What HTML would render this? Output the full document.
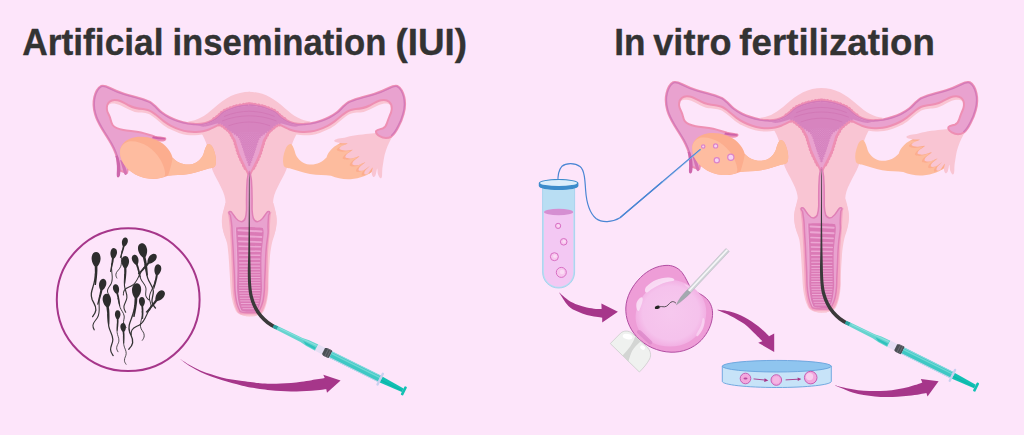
<!DOCTYPE html>
<html lang="en">
<head>
<meta charset="utf-8">
<title>Artificial insemination (IUI) vs In vitro fertilization</title>
<style>
html,body{margin:0;padding:0;background:#fde5fa;}
body{width:1024px;height:435px;overflow:hidden;}
svg{display:block;}
</style>
</head>
<body>
<svg width="1024" height="435" viewBox="0 0 1024 435">
<rect width="1024" height="435" fill="#fde5fa"/>
<text y="54.7" style="font-family:'Liberation Sans','DejaVu Sans',sans-serif;font-weight:bold;font-size:37.7px;fill:#333333;stroke:#333333;stroke-width:0.35px;stroke-linejoin:round"><tspan x="22.2" textLength="141.4" lengthAdjust="spacingAndGlyphs">Artificial</tspan> <tspan x="172.4" textLength="214" lengthAdjust="spacingAndGlyphs">insemination</tspan> <tspan x="395.4" textLength="71.6" lengthAdjust="spacingAndGlyphs">(IUI)</tspan></text><text y="54.7" style="font-family:'Liberation Sans','DejaVu Sans',sans-serif;font-weight:bold;font-size:37.7px;fill:#333333;stroke:#333333;stroke-width:0.35px;stroke-linejoin:round"><tspan x="614.2" textLength="31.2" lengthAdjust="spacingAndGlyphs">In</tspan> <tspan x="653.3" textLength="78.2" lengthAdjust="spacingAndGlyphs">vitro</tspan> <tspan x="739.3" textLength="195.6" lengthAdjust="spacingAndGlyphs">fertilization</tspan></text>
<g id="iui">
<path fill="#f9c5d3" d="M250,91.8 C236,91.8 225,98 214,108 C205,116 197,121 188,121.5 L200,131 C204,137 206,142 207,146 L211,166 C213,172 215,176 218.4,182 C222,189 224.5,194 225.2,199 C226,204 225,207 223.7,210 C222.2,214 221.7,219 221.9,222.7 C222.2,227 222.8,230 223.7,232.6 C225,236.5 226.5,240 227.7,243 C229.5,247 230.5,250 230.8,254 L231.6,268 L232.5,286.5 C233,295 234,300 235.4,305.4 C236.5,309.5 238,312.5 240,314.2 C243,316 246,316.3 250,316.3 Z"/><g transform="translate(498.6,0) scale(-1,1)"><path fill="#f9c5d3" d="M250,91.8 C236,91.8 225,98 214,108 C205,116 197,121 188,121.5 L200,131 C204,137 206,142 207,146 L211,166 C213,172 215,176 218.4,182 C222,189 224.5,194 225.2,199 C226,204 225,207 223.7,210 C222.2,214 221.7,219 221.9,222.7 C222.2,227 222.8,230 223.7,232.6 C225,236.5 226.5,240 227.7,243 C229.5,247 230.5,250 230.8,254 L231.6,268 L232.5,286.5 C233,295 234,300 235.4,305.4 C236.5,309.5 238,312.5 240,314.2 C243,316 246,316.3 250,316.3 Z"/></g><path fill="#fdbc9e" d="M374,150 C366,141 352,139 342,142.5 C334,145.5 328.5,151 326.5,157.5
C322,162.5 316,165 309.5,164.5 C303,164 298,160 295.5,154 C294.5,150.5 293.5,146.5 291.5,144.2 C289,143 287,145.5 285.5,149
C283.5,154 282.2,160 283.5,165 C284.5,168 287,167.8 289.5,168.3 C296,170 302.5,172.8 310,174 C318,175.3 325,175 331,175.8
C337,178.5 344,179.6 350.5,179.2 C360,178.5 369,175 374,170 Z"/><clipPath id="ovrclip"><path d="M374,150 C366,141 352,139 342,142.5 C334,145.5 328.5,151 326.5,157.5 L320,164 L320,174 L331,175.8 C337,178.5 344,179.6 350.5,179.2 C360,178.5 369,175 374,170 Z"/></clipPath><g clip-path="url(#ovrclip)"><path fill="#fcad8e" transform="translate(-2.6,1.2)" d="M393.60,133.20 C392.60,132.13 387.88,132.65 385.00,132.60 C382.12,132.55 379.50,132.68 376.30,132.90 C373.10,133.12 369.73,133.43 365.80,133.90 C361.87,134.37 356.62,135.00 352.70,135.70 C348.78,136.40 345.02,137.52 342.30,138.10 C339.58,138.68 337.75,138.77 336.40,139.20 C335.05,139.63 334.20,140.20 334.20,140.70 C334.20,141.20 335.10,141.78 336.40,142.20 C337.70,142.62 340.13,142.97 342.00,143.20 C343.87,143.43 347.75,143.05 347.60,143.60 C347.45,144.15 342.43,145.61 341.10,146.51 C339.77,147.41 338.94,148.32 339.60,149.00 C340.26,149.68 342.88,150.45 345.05,150.58 C347.22,150.71 352.32,149.19 352.60,149.80 C352.88,150.42 347.92,152.97 346.75,154.27 C345.58,155.57 344.84,156.91 345.60,157.60 C346.36,158.29 349.03,158.64 351.33,158.41 C353.63,158.18 359.01,155.76 359.40,156.20 C359.79,156.64 354.81,159.66 353.68,161.06 C352.55,162.46 351.90,163.93 352.60,164.60 C353.31,165.27 355.81,165.46 357.91,165.06 C360.01,164.66 364.89,161.89 365.20,162.20 C365.50,162.51 360.81,165.56 359.74,166.93 C358.67,168.30 358.17,169.86 358.80,170.40 C359.44,170.94 361.72,170.89 363.55,170.16 C365.38,169.43 369.54,165.91 369.80,166.00 C370.06,166.09 365.99,169.36 365.12,170.73 C364.25,172.10 364.07,173.79 364.60,174.20 C365.13,174.61 366.97,174.29 368.30,173.19 C369.63,172.09 372.04,167.61 372.60,167.60 C373.17,167.59 371.59,171.54 371.69,173.11 C371.79,174.68 372.56,176.62 373.20,177.00 C373.83,177.38 374.83,176.76 375.50,175.36 C376.17,173.96 376.79,168.79 377.20,168.60 C377.61,168.41 377.45,172.64 377.98,174.24 C378.51,175.84 379.74,177.84 380.40,178.20 C381.06,178.56 381.65,177.89 381.96,176.42 C382.28,174.95 382.09,171.64 382.30,169.40 C382.51,167.16 382.82,165.40 383.20,163.00 C383.58,160.60 383.90,157.75 384.60,155.00 C385.30,152.25 386.33,149.17 387.40,146.50 C388.47,143.83 389.97,141.22 391.00,139.00 C392.03,136.78 394.60,134.27 393.60,133.20 Z"/></g><path fill="#f9c5d3" d="M393.60,133.20 C392.60,132.13 387.88,132.65 385.00,132.60 C382.12,132.55 379.50,132.68 376.30,132.90 C373.10,133.12 369.73,133.43 365.80,133.90 C361.87,134.37 356.62,135.00 352.70,135.70 C348.78,136.40 345.02,137.52 342.30,138.10 C339.58,138.68 337.75,138.77 336.40,139.20 C335.05,139.63 334.20,140.20 334.20,140.70 C334.20,141.20 335.10,141.78 336.40,142.20 C337.70,142.62 340.13,142.97 342.00,143.20 C343.87,143.43 347.75,143.05 347.60,143.60 C347.45,144.15 342.43,145.61 341.10,146.51 C339.77,147.41 338.94,148.32 339.60,149.00 C340.26,149.68 342.88,150.45 345.05,150.58 C347.22,150.71 352.32,149.19 352.60,149.80 C352.88,150.42 347.92,152.97 346.75,154.27 C345.58,155.57 344.84,156.91 345.60,157.60 C346.36,158.29 349.03,158.64 351.33,158.41 C353.63,158.18 359.01,155.76 359.40,156.20 C359.79,156.64 354.81,159.66 353.68,161.06 C352.55,162.46 351.90,163.93 352.60,164.60 C353.31,165.27 355.81,165.46 357.91,165.06 C360.01,164.66 364.89,161.89 365.20,162.20 C365.50,162.51 360.81,165.56 359.74,166.93 C358.67,168.30 358.17,169.86 358.80,170.40 C359.44,170.94 361.72,170.89 363.55,170.16 C365.38,169.43 369.54,165.91 369.80,166.00 C370.06,166.09 365.99,169.36 365.12,170.73 C364.25,172.10 364.07,173.79 364.60,174.20 C365.13,174.61 366.97,174.29 368.30,173.19 C369.63,172.09 372.04,167.61 372.60,167.60 C373.17,167.59 371.59,171.54 371.69,173.11 C371.79,174.68 372.56,176.62 373.20,177.00 C373.83,177.38 374.83,176.76 375.50,175.36 C376.17,173.96 376.79,168.79 377.20,168.60 C377.61,168.41 377.45,172.64 377.98,174.24 C378.51,175.84 379.74,177.84 380.40,178.20 C381.06,178.56 381.65,177.89 381.96,176.42 C382.28,174.95 382.09,171.64 382.30,169.40 C382.51,167.16 382.82,165.40 383.20,163.00 C383.58,160.60 383.90,157.75 384.60,155.00 C385.30,152.25 386.33,149.17 387.40,146.50 C388.47,143.83 389.97,141.22 391.00,139.00 C392.03,136.78 394.60,134.27 393.60,133.20 Z"/><path fill="#f9c5d3" d="M108.00,103.00 C108.67,102.57 110.42,100.80 112.00,100.40 C113.58,100.00 115.67,100.23 117.50,100.60 C119.33,100.97 121.08,101.75 123.00,102.60 C124.92,103.45 126.83,104.70 129.00,105.70 C131.17,106.70 133.67,108.02 136.00,108.60 C138.33,109.18 140.67,108.83 143.00,109.20 C145.33,109.57 147.83,109.87 150.00,110.80 C152.17,111.73 153.67,113.03 156.00,114.80 C158.33,116.57 161.50,119.57 164.00,121.40 C166.50,123.23 168.33,124.43 171.00,125.80 C173.67,127.17 177.17,128.63 180.00,129.60 C182.83,130.57 185.33,131.20 188.00,131.60 C190.67,132.00 193.50,132.07 196.00,132.00 C198.50,131.93 200.83,131.62 203.00,131.20 C205.17,130.78 208.00,129.78 209.00,129.50 L210.8,132.8 L207.8,132.8 C206.80,133.08 203.97,134.08 201.80,134.50 C199.63,134.92 197.30,135.23 194.80,135.30 C192.30,135.37 189.47,135.30 186.80,134.90 C184.13,134.50 181.63,133.87 178.80,132.90 C175.97,131.93 172.47,130.47 169.80,129.10 C167.13,127.73 165.30,126.53 162.80,124.70 C160.30,122.87 157.13,119.87 154.80,118.10 C152.47,116.33 150.97,115.03 148.80,114.10 C146.63,113.17 144.13,112.87 141.80,112.50 C139.47,112.13 137.13,112.48 134.80,111.90 C132.47,111.32 129.97,110.00 127.80,109.00 C125.63,108.00 123.72,106.75 121.80,105.90 C119.88,105.05 118.13,104.27 116.30,103.90 C114.47,103.53 112.38,103.30 110.80,103.70 C109.22,104.10 107.47,105.87 106.80,106.30 Z"/><g transform="translate(498.6,0) scale(-1,1)"><path fill="#f9c5d3" d="M108.00,103.00 C108.67,102.57 110.42,100.80 112.00,100.40 C113.58,100.00 115.67,100.23 117.50,100.60 C119.33,100.97 121.08,101.75 123.00,102.60 C124.92,103.45 126.83,104.70 129.00,105.70 C131.17,106.70 133.67,108.02 136.00,108.60 C138.33,109.18 140.67,108.83 143.00,109.20 C145.33,109.57 147.83,109.87 150.00,110.80 C152.17,111.73 153.67,113.03 156.00,114.80 C158.33,116.57 161.50,119.57 164.00,121.40 C166.50,123.23 168.33,124.43 171.00,125.80 C173.67,127.17 177.17,128.63 180.00,129.60 C182.83,130.57 185.33,131.20 188.00,131.60 C190.67,132.00 193.50,132.07 196.00,132.00 C198.50,131.93 200.83,131.62 203.00,131.20 C205.17,130.78 208.00,129.78 209.00,129.50 L210.8,132.8 L207.8,132.8 C206.80,133.08 203.97,134.08 201.80,134.50 C199.63,134.92 197.30,135.23 194.80,135.30 C192.30,135.37 189.47,135.30 186.80,134.90 C184.13,134.50 181.63,133.87 178.80,132.90 C175.97,131.93 172.47,130.47 169.80,129.10 C167.13,127.73 165.30,126.53 162.80,124.70 C160.30,122.87 157.13,119.87 154.80,118.10 C152.47,116.33 150.97,115.03 148.80,114.10 C146.63,113.17 144.13,112.87 141.80,112.50 C139.47,112.13 137.13,112.48 134.80,111.90 C132.47,111.32 129.97,110.00 127.80,109.00 C125.63,108.00 123.72,106.75 121.80,105.90 C119.88,105.05 118.13,104.27 116.30,103.90 C114.47,103.53 112.38,103.30 110.80,103.70 C109.22,104.10 107.47,105.87 106.80,106.30 Z"/></g><path fill="none" stroke="#ee8db2" stroke-width="4.0" stroke-linecap="round" stroke-dasharray="0.01 3.3" d="M219,124.5 C221,124.4 222.8,125.8 224.2,127 C226.2,128.6 228,129.8 229.3,131.2 C230.8,133 231.6,134.8 232.4,136.4 C233.3,138 234,139 234.5,140 C235,141.2 235.3,142.3 235.5,143.3 C236.6,147 237.6,150.3 238.6,153.6 C239.7,156.6 241,159.3 242.3,161.9 C243.5,164.5 244.7,166.8 245.9,169.1"/><path fill="none" stroke="#ee8db2" stroke-width="4.0" stroke-linecap="round" stroke-dasharray="0.01 3.3" d="M250,104.3 C246,104.4 243,104.8 239.7,105.6 C236.5,106.3 234,107 231.4,107.9 C228.5,108.9 226.3,109.9 224.2,111 C222,112.3 220.5,113.8 219,115.4 C217.5,116.8 216,118 214,119.2"/><g transform="translate(498.6,0) scale(-1,1)"><path fill="none" stroke="#ee8db2" stroke-width="4.0" stroke-linecap="round" stroke-dasharray="0.01 3.3" d="M219,124.5 C221,124.4 222.8,125.8 224.2,127 C226.2,128.6 228,129.8 229.3,131.2 C230.8,133 231.6,134.8 232.4,136.4 C233.3,138 234,139 234.5,140 C235,141.2 235.3,142.3 235.5,143.3 C236.6,147 237.6,150.3 238.6,153.6 C239.7,156.6 241,159.3 242.3,161.9 C243.5,164.5 244.7,166.8 245.9,169.1"/><path fill="none" stroke="#ee8db2" stroke-width="4.0" stroke-linecap="round" stroke-dasharray="0.01 3.3" d="M250,104.3 C246,104.4 243,104.8 239.7,105.6 C236.5,106.3 234,107 231.4,107.9 C228.5,108.9 226.3,109.9 224.2,111 C222,112.3 220.5,113.8 219,115.4 C217.5,116.8 216,118 214,119.2"/></g><clipPath id="utl"><path d="
M250,104.3 C246,104.4 243,104.8 239.7,105.6 C236.5,106.3 234,107 231.4,107.9 C228.5,108.9 226.3,109.9 224.2,111 C222,112.3 220.5,113.8 219,115.4
C217.5,116.8 216,118 214,119.2 C210.5,121.3 207.5,122.6 204.5,123.2 C201,124 198,124.2 195,123.9 C193.83,123.78 190.83,123.75 188.00,123.20 C185.17,122.65 181.07,121.60 178.00,120.60 C174.93,119.60 172.37,118.63 169.60,117.20 C166.83,115.77 163.83,113.90 161.40,112.00 C158.97,110.10 156.90,107.48 155.00,105.80 C153.10,104.12 151.83,102.95 150.00,101.90 C148.17,100.85 145.00,99.90 144.00,99.50
C137,97.3 130,95.5 124,93.7 C118,91.9 114,90 110,88 C106.5,86.2 103.5,85 101,86
C97.5,88 95.5,92 94.3,97 C93,102.5 93.3,108 95,114 C96.5,119.5 99,124 102,129
C105,134 108.5,139 111.5,144.5 C114.5,150 116.5,155 117.5,160 L118.4,170 L127,173 L130,160
L132,146 L140,139 L152,139.5 C156,140.3 160,140.8 163,140.4 C165,140 165.8,139 165,138.3
C162,137.6 158.5,137.4 155,136.6 C150,135.3 146,133.6 141,132.5 C135,131.2 129,131 123.5,130
C118.5,129 114.5,127.5 112.6,125 C111,122.8 110.8,120 110,117.5 C109,114.5 107.2,112.5 106.9,109.5
C106.6,106.5 107.5,103.5 109.5,101.8 C111.5,100 114.5,99.6 117.5,100.3 C121.5,101.2 125,103.3 129,105.5
C133.5,108 138,108.8 143,109 C144.17,109.30 147.83,109.83 150.00,110.80 C152.17,111.77 153.67,113.03 156.00,114.80 C158.33,116.57 161.50,119.57 164.00,121.40 C166.50,123.23 168.33,124.43 171.00,125.80 C173.67,127.17 177.17,128.63 180.00,129.60 C182.83,130.57 185.33,131.20 188.00,131.60 C190.67,132.00 193.50,132.07 196.00,132.00 C198.50,131.93 200.83,131.62 203.00,131.20 C205.17,130.78 207.17,130.17 209.00,129.50 C210.83,128.83 212.33,128.02 214.00,127.20 C215.67,126.38 218.17,125.03 219.00,124.60
C221,124.4 222.8,125.8 224.2,127 C226.2,128.6 228,129.8 229.3,131.2 C230.8,133 231.6,134.8 232.4,136.4 C233.3,138 234,139 234.5,140
C235,141.2 235.3,142.3 235.5,143.3 C236.6,147 237.6,150.3 238.6,153.6 C239.7,156.6 241,159.3 242.3,161.9 C243.5,164.5 244.7,166.8 245.9,169.1
C246.8,171 247.6,172.6 248.3,174.3 L250,176 Z"/></clipPath><path d="
M250,104.3 C246,104.4 243,104.8 239.7,105.6 C236.5,106.3 234,107 231.4,107.9 C228.5,108.9 226.3,109.9 224.2,111 C222,112.3 220.5,113.8 219,115.4
C217.5,116.8 216,118 214,119.2 C210.5,121.3 207.5,122.6 204.5,123.2 C201,124 198,124.2 195,123.9 C193.83,123.78 190.83,123.75 188.00,123.20 C185.17,122.65 181.07,121.60 178.00,120.60 C174.93,119.60 172.37,118.63 169.60,117.20 C166.83,115.77 163.83,113.90 161.40,112.00 C158.97,110.10 156.90,107.48 155.00,105.80 C153.10,104.12 151.83,102.95 150.00,101.90 C148.17,100.85 145.00,99.90 144.00,99.50
C137,97.3 130,95.5 124,93.7 C118,91.9 114,90 110,88 C106.5,86.2 103.5,85 101,86
C97.5,88 95.5,92 94.3,97 C93,102.5 93.3,108 95,114 C96.5,119.5 99,124 102,129
C105,134 108.5,139 111.5,144.5 C114.5,150 116.5,155 117.5,160 L118.4,170 L127,173 L130,160
L132,146 L140,139 L152,139.5 C156,140.3 160,140.8 163,140.4 C165,140 165.8,139 165,138.3
C162,137.6 158.5,137.4 155,136.6 C150,135.3 146,133.6 141,132.5 C135,131.2 129,131 123.5,130
C118.5,129 114.5,127.5 112.6,125 C111,122.8 110.8,120 110,117.5 C109,114.5 107.2,112.5 106.9,109.5
C106.6,106.5 107.5,103.5 109.5,101.8 C111.5,100 114.5,99.6 117.5,100.3 C121.5,101.2 125,103.3 129,105.5
C133.5,108 138,108.8 143,109 C144.17,109.30 147.83,109.83 150.00,110.80 C152.17,111.77 153.67,113.03 156.00,114.80 C158.33,116.57 161.50,119.57 164.00,121.40 C166.50,123.23 168.33,124.43 171.00,125.80 C173.67,127.17 177.17,128.63 180.00,129.60 C182.83,130.57 185.33,131.20 188.00,131.60 C190.67,132.00 193.50,132.07 196.00,132.00 C198.50,131.93 200.83,131.62 203.00,131.20 C205.17,130.78 207.17,130.17 209.00,129.50 C210.83,128.83 212.33,128.02 214.00,127.20 C215.67,126.38 218.17,125.03 219.00,124.60
C221,124.4 222.8,125.8 224.2,127 C226.2,128.6 228,129.8 229.3,131.2 C230.8,133 231.6,134.8 232.4,136.4 C233.3,138 234,139 234.5,140
C235,141.2 235.3,142.3 235.5,143.3 C236.6,147 237.6,150.3 238.6,153.6 C239.7,156.6 241,159.3 242.3,161.9 C243.5,164.5 244.7,166.8 245.9,169.1
C246.8,171 247.6,172.6 248.3,174.3 L250,176 Z" fill="#e9a2cf"/><path d="M250,104.3 C246,104.4 243,104.8 239.7,105.6 C236.5,106.3 234,107 231.4,107.9 C228.5,108.9 226.3,109.9 224.2,111 C222,112.3 220.5,113.8 219,115.4
C217.5,116.8 216,118 214,119.2 C210.5,121.3 207.5,122.6 204.5,123.2 C201,124 198,124.2 195,123.9 C193.83,123.78 190.83,123.75 188.00,123.20 C185.17,122.65 181.07,121.60 178.00,120.60 C174.93,119.60 172.37,118.63 169.60,117.20 C166.83,115.77 163.83,113.90 161.40,112.00 C158.97,110.10 156.90,107.48 155.00,105.80 C153.10,104.12 151.83,102.95 150.00,101.90 C148.17,100.85 145.00,99.90 144.00,99.50
C137,97.3 130,95.5 124,93.7 C118,91.9 114,90 110,88 C106.5,86.2 103.5,85 101,86
C97.5,88 95.5,92 94.3,97 C93,102.5 93.3,108 95,114 C96.5,119.5 99,124 102,129
C105,134 108.5,139 111.5,144.5 C114.5,150 116.5,155 117.5,160 L118.4,170 L127,173 L130,160
L132,146 L140,139 L152,139.5 C156,140.3 160,140.8 163,140.4 C165,140 165.8,139 165,138.3
C162,137.6 158.5,137.4 155,136.6 C150,135.3 146,133.6 141,132.5 C135,131.2 129,131 123.5,130
C118.5,129 114.5,127.5 112.6,125 C111,122.8 110.8,120 110,117.5 C109,114.5 107.2,112.5 106.9,109.5
C106.6,106.5 107.5,103.5 109.5,101.8 C111.5,100 114.5,99.6 117.5,100.3 C121.5,101.2 125,103.3 129,105.5
C133.5,108 138,108.8 143,109 C144.17,109.30 147.83,109.83 150.00,110.80 C152.17,111.77 153.67,113.03 156.00,114.80 C158.33,116.57 161.50,119.57 164.00,121.40 C166.50,123.23 168.33,124.43 171.00,125.80 C173.67,127.17 177.17,128.63 180.00,129.60 C182.83,130.57 185.33,131.20 188.00,131.60 C190.67,132.00 193.50,132.07 196.00,132.00 C198.50,131.93 200.83,131.62 203.00,131.20 C205.17,130.78 207.17,130.17 209.00,129.50 C210.83,128.83 212.33,128.02 214.00,127.20 C215.67,126.38 218.17,125.03 219.00,124.60
C221,124.4 222.8,125.8 224.2,127 C226.2,128.6 228,129.8 229.3,131.2 C230.8,133 231.6,134.8 232.4,136.4 C233.3,138 234,139 234.5,140
C235,141.2 235.3,142.3 235.5,143.3 C236.6,147 237.6,150.3 238.6,153.6 C239.7,156.6 241,159.3 242.3,161.9 C243.5,164.5 244.7,166.8 245.9,169.1
C246.8,171 247.6,172.6 248.3,174.3 " fill="none" stroke="#ee8fb3" stroke-width="2.0" stroke-linejoin="round"/><path d="
M250,104.3 C246,104.4 243,104.8 239.7,105.6 C236.5,106.3 234,107 231.4,107.9 C228.5,108.9 226.3,109.9 224.2,111 C222,112.3 220.5,113.8 219,115.4
C217.5,116.8 216,118 214,119.2 C210.5,121.3 207.5,122.6 204.5,123.2 C201,124 198,124.2 195,123.9 C193.83,123.78 190.83,123.75 188.00,123.20 C185.17,122.65 181.07,121.60 178.00,120.60 C174.93,119.60 172.37,118.63 169.60,117.20 C166.83,115.77 163.83,113.90 161.40,112.00 C158.97,110.10 156.90,107.48 155.00,105.80 C153.10,104.12 151.83,102.95 150.00,101.90 C148.17,100.85 145.00,99.90 144.00,99.50
C137,97.3 130,95.5 124,93.7 C118,91.9 114,90 110,88 C106.5,86.2 103.5,85 101,86
C97.5,88 95.5,92 94.3,97 C93,102.5 93.3,108 95,114 C96.5,119.5 99,124 102,129
C105,134 108.5,139 111.5,144.5 C114.5,150 116.5,155 117.5,160" fill="none" stroke="#d47ab9" stroke-width="2.8" stroke-linejoin="round" clip-path="url(#utl)"/><g transform="translate(498.6,0) scale(-1,1)"><clipPath id="utr"><path d="
M250,104.3 C246,104.4 243,104.8 239.7,105.6 C236.5,106.3 234,107 231.4,107.9 C228.5,108.9 226.3,109.9 224.2,111 C222,112.3 220.5,113.8 219,115.4
C217.5,116.8 216,118 214,119.2 C210.5,121.3 207.5,122.6 204.5,123.2 C201,124 198,124.2 195,123.9 C193.83,123.78 190.83,123.75 188.00,123.20 C185.17,122.65 181.07,121.60 178.00,120.60 C174.93,119.60 172.37,118.63 169.60,117.20 C166.83,115.77 163.83,113.90 161.40,112.00 C158.97,110.10 156.90,107.48 155.00,105.80 C153.10,104.12 151.83,102.95 150.00,101.90 C148.17,100.85 145.00,99.90 144.00,99.50
C137,97.3 130,95.5 124,93.7 C118,91.9 114,90 110,88 C106.5,86.2 103.5,85 101,86
C97.5,88 95.5,92 94.3,97 C93,102.5 93.3,108 95,114 C96.5,119.5 98,123 100,126.5
C102,130.5 104,134 107,136.3 C110.5,138.5 115.5,138.2 119,136.2 C121.5,134.8 123.3,132.5 122.3,130.8 C121.3,129.5 118.5,129.3 116,128.5
C113.5,127.6 112.3,125.5 111.6,123 C110.8,120.5 110,118.5 109,116 C107.8,113.5 107,111.5 106.9,109.5
C106.6,106.5 107.5,103.5 109.5,101.8 C111.5,100 114.5,99.6 117.5,100.3 C121.5,101.2 125,103.3 129,105.5
C133.5,108 138,108.8 143,109 C144.17,109.30 147.83,109.83 150.00,110.80 C152.17,111.77 153.67,113.03 156.00,114.80 C158.33,116.57 161.50,119.57 164.00,121.40 C166.50,123.23 168.33,124.43 171.00,125.80 C173.67,127.17 177.17,128.63 180.00,129.60 C182.83,130.57 185.33,131.20 188.00,131.60 C190.67,132.00 193.50,132.07 196.00,132.00 C198.50,131.93 200.83,131.62 203.00,131.20 C205.17,130.78 207.17,130.17 209.00,129.50 C210.83,128.83 212.33,128.02 214.00,127.20 C215.67,126.38 218.17,125.03 219.00,124.60
C221,124.4 222.8,125.8 224.2,127 C226.2,128.6 228,129.8 229.3,131.2 C230.8,133 231.6,134.8 232.4,136.4 C233.3,138 234,139 234.5,140
C235,141.2 235.3,142.3 235.5,143.3 C236.6,147 237.6,150.3 238.6,153.6 C239.7,156.6 241,159.3 242.3,161.9 C243.5,164.5 244.7,166.8 245.9,169.1
C246.8,171 247.6,172.6 248.3,174.3 L250,176 Z"/></clipPath><path d="
M250,104.3 C246,104.4 243,104.8 239.7,105.6 C236.5,106.3 234,107 231.4,107.9 C228.5,108.9 226.3,109.9 224.2,111 C222,112.3 220.5,113.8 219,115.4
C217.5,116.8 216,118 214,119.2 C210.5,121.3 207.5,122.6 204.5,123.2 C201,124 198,124.2 195,123.9 C193.83,123.78 190.83,123.75 188.00,123.20 C185.17,122.65 181.07,121.60 178.00,120.60 C174.93,119.60 172.37,118.63 169.60,117.20 C166.83,115.77 163.83,113.90 161.40,112.00 C158.97,110.10 156.90,107.48 155.00,105.80 C153.10,104.12 151.83,102.95 150.00,101.90 C148.17,100.85 145.00,99.90 144.00,99.50
C137,97.3 130,95.5 124,93.7 C118,91.9 114,90 110,88 C106.5,86.2 103.5,85 101,86
C97.5,88 95.5,92 94.3,97 C93,102.5 93.3,108 95,114 C96.5,119.5 98,123 100,126.5
C102,130.5 104,134 107,136.3 C110.5,138.5 115.5,138.2 119,136.2 C121.5,134.8 123.3,132.5 122.3,130.8 C121.3,129.5 118.5,129.3 116,128.5
C113.5,127.6 112.3,125.5 111.6,123 C110.8,120.5 110,118.5 109,116 C107.8,113.5 107,111.5 106.9,109.5
C106.6,106.5 107.5,103.5 109.5,101.8 C111.5,100 114.5,99.6 117.5,100.3 C121.5,101.2 125,103.3 129,105.5
C133.5,108 138,108.8 143,109 C144.17,109.30 147.83,109.83 150.00,110.80 C152.17,111.77 153.67,113.03 156.00,114.80 C158.33,116.57 161.50,119.57 164.00,121.40 C166.50,123.23 168.33,124.43 171.00,125.80 C173.67,127.17 177.17,128.63 180.00,129.60 C182.83,130.57 185.33,131.20 188.00,131.60 C190.67,132.00 193.50,132.07 196.00,132.00 C198.50,131.93 200.83,131.62 203.00,131.20 C205.17,130.78 207.17,130.17 209.00,129.50 C210.83,128.83 212.33,128.02 214.00,127.20 C215.67,126.38 218.17,125.03 219.00,124.60
C221,124.4 222.8,125.8 224.2,127 C226.2,128.6 228,129.8 229.3,131.2 C230.8,133 231.6,134.8 232.4,136.4 C233.3,138 234,139 234.5,140
C235,141.2 235.3,142.3 235.5,143.3 C236.6,147 237.6,150.3 238.6,153.6 C239.7,156.6 241,159.3 242.3,161.9 C243.5,164.5 244.7,166.8 245.9,169.1
C246.8,171 247.6,172.6 248.3,174.3 L250,176 Z" fill="#e9a2cf"/><path d="M250,104.3 C246,104.4 243,104.8 239.7,105.6 C236.5,106.3 234,107 231.4,107.9 C228.5,108.9 226.3,109.9 224.2,111 C222,112.3 220.5,113.8 219,115.4
C217.5,116.8 216,118 214,119.2 C210.5,121.3 207.5,122.6 204.5,123.2 C201,124 198,124.2 195,123.9 C193.83,123.78 190.83,123.75 188.00,123.20 C185.17,122.65 181.07,121.60 178.00,120.60 C174.93,119.60 172.37,118.63 169.60,117.20 C166.83,115.77 163.83,113.90 161.40,112.00 C158.97,110.10 156.90,107.48 155.00,105.80 C153.10,104.12 151.83,102.95 150.00,101.90 C148.17,100.85 145.00,99.90 144.00,99.50
C137,97.3 130,95.5 124,93.7 C118,91.9 114,90 110,88 C106.5,86.2 103.5,85 101,86
C97.5,88 95.5,92 94.3,97 C93,102.5 93.3,108 95,114 C96.5,119.5 98,123 100,126.5
C102,130.5 104,134 107,136.3 C110.5,138.5 115.5,138.2 119,136.2 C121.5,134.8 123.3,132.5 122.3,130.8 C121.3,129.5 118.5,129.3 116,128.5
C113.5,127.6 112.3,125.5 111.6,123 C110.8,120.5 110,118.5 109,116 C107.8,113.5 107,111.5 106.9,109.5
C106.6,106.5 107.5,103.5 109.5,101.8 C111.5,100 114.5,99.6 117.5,100.3 C121.5,101.2 125,103.3 129,105.5
C133.5,108 138,108.8 143,109 C144.17,109.30 147.83,109.83 150.00,110.80 C152.17,111.77 153.67,113.03 156.00,114.80 C158.33,116.57 161.50,119.57 164.00,121.40 C166.50,123.23 168.33,124.43 171.00,125.80 C173.67,127.17 177.17,128.63 180.00,129.60 C182.83,130.57 185.33,131.20 188.00,131.60 C190.67,132.00 193.50,132.07 196.00,132.00 C198.50,131.93 200.83,131.62 203.00,131.20 C205.17,130.78 207.17,130.17 209.00,129.50 C210.83,128.83 212.33,128.02 214.00,127.20 C215.67,126.38 218.17,125.03 219.00,124.60
C221,124.4 222.8,125.8 224.2,127 C226.2,128.6 228,129.8 229.3,131.2 C230.8,133 231.6,134.8 232.4,136.4 C233.3,138 234,139 234.5,140
C235,141.2 235.3,142.3 235.5,143.3 C236.6,147 237.6,150.3 238.6,153.6 C239.7,156.6 241,159.3 242.3,161.9 C243.5,164.5 244.7,166.8 245.9,169.1
C246.8,171 247.6,172.6 248.3,174.3 " fill="none" stroke="#ee8fb3" stroke-width="2.0" stroke-linejoin="round"/><path d="
M250,104.3 C246,104.4 243,104.8 239.7,105.6 C236.5,106.3 234,107 231.4,107.9 C228.5,108.9 226.3,109.9 224.2,111 C222,112.3 220.5,113.8 219,115.4
C217.5,116.8 216,118 214,119.2 C210.5,121.3 207.5,122.6 204.5,123.2 C201,124 198,124.2 195,123.9 C193.83,123.78 190.83,123.75 188.00,123.20 C185.17,122.65 181.07,121.60 178.00,120.60 C174.93,119.60 172.37,118.63 169.60,117.20 C166.83,115.77 163.83,113.90 161.40,112.00 C158.97,110.10 156.90,107.48 155.00,105.80 C153.10,104.12 151.83,102.95 150.00,101.90 C148.17,100.85 145.00,99.90 144.00,99.50
C137,97.3 130,95.5 124,93.7 C118,91.9 114,90 110,88 C106.5,86.2 103.5,85 101,86
C97.5,88 95.5,92 94.3,97 C93,102.5 93.3,108 95,114 C96.5,119.5 98,123 100,126.5
C102,130.5 104,134 107,136.3" fill="none" stroke="#d47ab9" stroke-width="2.8" stroke-linejoin="round" clip-path="url(#utr)"/></g><path fill="#cd66ac" d="M115.4,156 C116.6,160 117.1,165 116.9,170 C116.8,173 116.5,175.6 117.1,176.9 C117.9,177.9 119.5,177.3 119.9,175.6 C120.7,172 120.5,167 119.9,163 C119.5,160.4 118.7,157.8 117.7,155.4 Z"/>
<path fill="#d573b3" d="M120,160 C121.2,163.4 122.3,167.2 123.1,170.4 C123.7,172.6 124.2,174.3 125.2,174.9 C126.5,175.3 127.3,174 126.9,172.2 C126.1,168.6 124.7,164.6 122.9,161 Z"/>
<path fill="#cf62a8" d="M152,138.2 C156,139 160,139.6 163.5,139.6 C165.5,139.5 166,138.6 164.6,138 C161,137.2 157,137 153,136.2 Z"/><path fill="#fcad8e" d="M120,151 C120.5,144.5 126,139 135,137.3 C146,135.5 158,139 165.5,146 C169,149.3 171.5,153.5 172.5,157.5
C177,162.5 183,165 189.5,164.5 C196,164 201,160 203.5,154 C204.5,150.5 205.5,146.5 207.5,144.2 C210,143 212,145.5 213.5,149
C215.5,154 216.8,160 215.5,165 C214.5,168 212,167.8 209.5,168.3 C203,170 196.5,172.8 189,174 C181,175.3 174,175 168,175.8
C162,178.5 155,179.4 148.5,178.6 C139,177.5 130,172.5 124.5,165 C121.5,161 119.8,156 120,151 Z"/>
<path fill="#fdbc9e" d="M172.6,158 C177,162.5 183,165 189.5,164.5 C196,164 201,160 203.5,154 C204.5,150.5 205.5,146.5 207.5,144.2 C210,143 212,145.5 213.5,149
C215.5,154 216.8,160 215.5,165 C214.5,168 212,167.8 209.5,168.3 C203,170 196.5,172.8 189,174 C181,175.3 174,175 168,175.8 C170,170 171.6,164 172.6,158 Z"/>
<path fill="#febca0" d="M120,151 C120.4,146.6 123.6,143 128.6,141.4 C135,140.6 142,142.6 148,146.6 C153,150 157.4,154.6 160.6,160 C162.8,163.8 164.4,168 165,172 C165.2,174 165,175.6 164.4,176.8 C159.4,178.6 153.6,179.2 148.5,178.6 C139,177.5 130,172.5 124.5,165 C121.5,161 119.8,156 120,151 Z"/><path fill="#d784bf" d="M249.3,105.7 C246,105.8 243,106.3 239.7,107 C236.6,107.7 234,108.4 231.4,109.3 C228.6,110.3 226.3,111.3 224.2,112.4 C222,113.7 220.6,115.2 219,116.8 C217.5,118.2 216.2,119.4 214.3,120.6 C211,122.5 208,123.8 205,124.4 C202.5,124.8 200,124.9 197,124.6 C199.5,126.2 202,127 205.3,126.6 C209,126 212.5,124.6 215.7,123.7 C217,123.3 218,123.1 219,123.2 C219.50,123.33 220.93,123.43 222.00,124.00 C223.07,124.57 224.30,125.70 225.40,126.60 C226.50,127.50 227.50,128.50 228.60,129.40 C229.70,130.30 230.87,131.20 232.00,132.00 C233.13,132.80 234.37,133.47 235.40,134.20 C236.43,134.93 237.43,135.60 238.20,136.40 C238.97,137.20 239.43,137.90 240.00,139.00 C240.57,140.10 241.07,141.57 241.60,143.00 C242.13,144.43 242.70,146.10 243.20,147.60 C243.70,149.10 244.13,150.52 244.60,152.00 C245.07,153.48 245.50,155.00 246.00,156.50 C246.50,158.00 247.05,159.58 247.60,161.00 C248.15,162.42 249.02,164.33 249.30,165.00 L250,165 L250,105.7 Z"/><path fill="none" stroke="#d784bf" stroke-width="2.0" stroke-linecap="round" stroke-dasharray="0.01 2.7" d="M219.00,123.20 C219.50,123.33 220.93,123.43 222.00,124.00 C223.07,124.57 224.30,125.70 225.40,126.60 C226.50,127.50 227.50,128.50 228.60,129.40 C229.70,130.30 230.87,131.20 232.00,132.00 C233.13,132.80 234.37,133.47 235.40,134.20 C236.43,134.93 237.43,135.60 238.20,136.40 C238.97,137.20 239.43,137.90 240.00,139.00 C240.57,140.10 241.07,141.57 241.60,143.00 C242.13,144.43 242.70,146.10 243.20,147.60 C243.70,149.10 244.13,150.52 244.60,152.00 C245.07,153.48 245.50,155.00 246.00,156.50 C246.50,158.00 247.05,159.58 247.60,161.00 C248.15,162.42 249.02,164.33 249.30,165.00"/><path fill="none" stroke="#d176b4" stroke-width="1.0" opacity="0.8" d="M224,116.5 C232,113 241,111.3 250,111.2 M222,121 C231,117.3 241,115.8 250,115.8 M228.5,125.8 C236,123 243,122 250,122"/><g transform="translate(498.6,0) scale(-1,1)"><path fill="#d784bf" d="M249.3,105.7 C246,105.8 243,106.3 239.7,107 C236.6,107.7 234,108.4 231.4,109.3 C228.6,110.3 226.3,111.3 224.2,112.4 C222,113.7 220.6,115.2 219,116.8 C217.5,118.2 216.2,119.4 214.3,120.6 C211,122.5 208,123.8 205,124.4 C202.5,124.8 200,124.9 197,124.6 C199.5,126.2 202,127 205.3,126.6 C209,126 212.5,124.6 215.7,123.7 C217,123.3 218,123.1 219,123.2 C219.50,123.33 220.93,123.43 222.00,124.00 C223.07,124.57 224.30,125.70 225.40,126.60 C226.50,127.50 227.50,128.50 228.60,129.40 C229.70,130.30 230.87,131.20 232.00,132.00 C233.13,132.80 234.37,133.47 235.40,134.20 C236.43,134.93 237.43,135.60 238.20,136.40 C238.97,137.20 239.43,137.90 240.00,139.00 C240.57,140.10 241.07,141.57 241.60,143.00 C242.13,144.43 242.70,146.10 243.20,147.60 C243.70,149.10 244.13,150.52 244.60,152.00 C245.07,153.48 245.50,155.00 246.00,156.50 C246.50,158.00 247.05,159.58 247.60,161.00 C248.15,162.42 249.02,164.33 249.30,165.00 L250,165 L250,105.7 Z"/><path fill="none" stroke="#d784bf" stroke-width="2.0" stroke-linecap="round" stroke-dasharray="0.01 2.7" d="M219.00,123.20 C219.50,123.33 220.93,123.43 222.00,124.00 C223.07,124.57 224.30,125.70 225.40,126.60 C226.50,127.50 227.50,128.50 228.60,129.40 C229.70,130.30 230.87,131.20 232.00,132.00 C233.13,132.80 234.37,133.47 235.40,134.20 C236.43,134.93 237.43,135.60 238.20,136.40 C238.97,137.20 239.43,137.90 240.00,139.00 C240.57,140.10 241.07,141.57 241.60,143.00 C242.13,144.43 242.70,146.10 243.20,147.60 C243.70,149.10 244.13,150.52 244.60,152.00 C245.07,153.48 245.50,155.00 246.00,156.50 C246.50,158.00 247.05,159.58 247.60,161.00 C248.15,162.42 249.02,164.33 249.30,165.00"/><path fill="none" stroke="#d176b4" stroke-width="1.0" opacity="0.8" d="M224,116.5 C232,113 241,111.3 250,111.2 M222,121 C231,117.3 241,115.8 250,115.8 M228.5,125.8 C236,123 243,122 250,122"/></g><pattern id="cavdots" width="2.2" height="2.2" patternUnits="userSpaceOnUse" patternTransform="translate(0.2,0.4)"><rect width="2.2" height="2.2" fill="#d47ebc"/><circle cx="0.55" cy="0.55" r="0.62" fill="#dc90c8"/><circle cx="1.65" cy="1.65" r="0.62" fill="#dc90c8"/></pattern><path fill="url(#cavdots)" d="M237.4,133 C245,131.6 253.6,131.6 261.2,133 C259.6,136 258.2,139.6 257.2,143 C256,147.4 254.8,152 253.2,156 C252.2,158.6 251,161 249.3,163.4 C247.6,161 246.4,158.6 245.4,156 C243.8,152 242.6,147.4 241.4,143 C240.4,139.6 239,136 237.4,133 Z"/><path fill="#f9c5d3" d="M225.40,203.00 C225.12,204.17 224.27,207.08 223.70,210.00 C223.13,212.92 222.02,216.73 222.00,220.50 C221.98,224.27 222.77,228.85 223.60,232.60 C224.43,236.35 226.20,239.43 227.00,243.00 C227.80,246.57 228.07,250.83 228.40,254.00 C228.73,257.17 228.77,258.50 229.00,262.00 C229.23,265.50 229.52,270.33 229.80,275.00 C230.08,279.67 230.33,286.00 230.70,290.00 C231.07,294.00 231.42,296.17 232.00,299.00 C232.58,301.83 233.17,304.57 234.20,307.00 C235.23,309.43 236.17,312.07 238.20,313.60 C240.23,315.13 245.03,315.77 246.40,316.20 L254.6,316.2 C255.83,315.73 260.20,314.93 262.00,313.40 C263.80,311.87 264.50,309.40 265.40,307.00 C266.30,304.60 266.90,301.83 267.40,299.00 C267.90,296.17 268.17,294.00 268.40,290.00 C268.63,286.00 268.60,279.67 268.80,275.00 C269.00,270.33 269.37,265.50 269.60,262.00 C269.83,258.50 269.80,257.17 270.20,254.00 C270.60,250.83 271.20,246.57 272.00,243.00 C272.80,239.43 274.23,236.35 275.00,232.60 C275.77,228.85 276.57,224.27 276.60,220.50 C276.63,216.73 275.73,212.92 275.20,210.00 C274.67,207.08 273.70,204.17 273.40,203.00 Z"/><path fill="#f4a5c3" d="M227.40,211.40 C227.57,212.17 228.03,213.62 228.40,216.00 C228.77,218.38 229.30,222.37 229.60,225.70 C229.90,229.03 229.97,231.95 230.20,236.00 C230.43,240.05 230.80,246.00 231.00,250.00 C231.20,254.00 231.23,255.83 231.40,260.00 C231.57,264.17 231.80,270.00 232.00,275.00 C232.20,280.00 232.30,285.83 232.60,290.00 C232.90,294.17 233.33,297.17 233.80,300.00 C234.27,302.83 234.70,304.93 235.40,307.00 C236.10,309.07 236.90,311.13 238.00,312.40 C239.10,313.67 241.33,314.23 242.00,314.60 L257.6,314.6 C258.27,314.23 260.47,313.67 261.60,312.40 C262.73,311.13 263.60,309.07 264.40,307.00 C265.20,304.93 265.82,302.83 266.40,300.00 C266.98,297.17 267.65,293.00 267.90,290.00 C268.15,287.00 267.90,285.33 267.90,282.00 C267.90,278.67 267.88,274.50 267.90,270.00 C267.92,265.50 267.88,259.17 268.00,255.00 C268.12,250.83 268.32,248.67 268.60,245.00 C268.88,241.33 269.47,236.22 269.70,233.00 C269.93,229.78 269.85,228.53 270.00,225.70 C270.15,222.87 270.33,218.38 270.60,216.00 C270.87,213.62 271.43,212.17 271.60,211.40 C270.6,212.8 269.6,214 268.8,215.4 C266,219.6 261.6,223.6 257.6,223.2 L241,223.2 C237,223.6 232.6,219.6 229.8,215.4 C229,214 228.4,212.8 227.4,211.4 Z"/><path fill="#e9a2cf" stroke="#e080b6" stroke-width="1.5" stroke-linejoin="round" d="M240.20,311.60 C239.80,310.67 238.47,307.93 237.80,306.00 C237.13,304.07 236.68,302.67 236.20,300.00 C235.72,297.33 235.20,294.17 234.90,290.00 C234.60,285.83 234.62,280.00 234.40,275.00 C234.18,270.00 233.80,264.17 233.60,260.00 C233.40,255.83 233.42,254.00 233.20,250.00 C232.98,246.00 232.53,240.05 232.30,236.00 C232.07,231.95 232.12,229.15 231.80,225.70 C231.48,222.25 230.63,217.03 230.40,215.30 C229.8,214.2 228.6,213.4 228.8,212.4 C229.2,211.2 230.8,211.4 231.8,212.6 C233.2,214.4 234.4,216.4 236,218.4 C237.6,220.4 239.4,221.7 241.2,221.7 C243,221.7 244.4,220.4 245.2,218.4 C246,216.2 246.3,213.5 246.5,210.2 C246.6,207 246.5,204 246.5,200 C246.5,192 246.8,185 247.2,180 C247.6,176 248.3,173.5 249.3,171.5 C250.3,173.5 251,176 251.4,180 C251.8,185 252.1,192 252.1,200 C252.1,204 252,207 252.1,210.2 C252.3,213.5 252.6,216.2 253.4,218.4 C254.2,220.4 255.6,221.7 257.4,221.7 C259.2,221.7 261,220.4 262.6,218.4 C264.2,216.4 265.4,214.4 266.8,212.6 C267.8,211.4 269.4,211.2 269.8,212.4 C270,213.4 268.8,214.2 268.6,215.3 C268.50,217.03 268.08,222.75 268.00,225.70 C267.92,228.65 268.33,229.78 268.10,233.00 C267.87,236.22 266.98,241.33 266.60,245.00 C266.22,248.67 266.03,250.83 265.80,255.00 C265.57,259.17 265.40,265.50 265.20,270.00 C265.00,274.50 264.73,278.67 264.60,282.00 C264.47,285.33 264.63,287.00 264.40,290.00 C264.17,293.00 263.70,297.33 263.20,300.00 C262.70,302.67 262.13,304.07 261.40,306.00 C260.67,307.93 259.23,310.67 258.80,311.60 C259,313.2 244,313.2 240.2,311.6 Z"/><path fill="#db7ab6" d="M236.10,227.40 C236.12,228.33 236.08,230.07 236.20,233.00 C236.32,235.93 236.63,241.17 236.80,245.00 C236.97,248.83 237.10,251.83 237.20,256.00 C237.30,260.17 237.40,265.67 237.40,270.00 C237.40,274.33 237.23,278.67 237.20,282.00 C237.17,285.33 237.03,287.00 237.20,290.00 C237.37,293.00 237.80,297.33 238.20,300.00 C238.60,302.67 239.07,304.27 239.60,306.00 C240.13,307.73 241.10,309.67 241.40,310.40 C244,312.2 258,312.4 257.6,310.4 C257.90,309.67 258.87,307.73 259.40,306.00 C259.93,304.27 260.38,302.67 260.80,300.00 C261.22,297.33 261.73,293.00 261.90,290.00 C262.07,287.00 261.87,285.33 261.80,282.00 C261.73,278.67 261.55,274.33 261.50,270.00 C261.45,265.67 261.35,260.17 261.50,256.00 C261.65,251.83 262.05,248.83 262.40,245.00 C262.75,241.17 263.52,235.83 263.60,233.00 C263.68,230.17 263.02,228.83 262.90,228.00 C258,227.2 244,226.6 236.1,227.4 Z"/><path fill="none" stroke="#f2bfe2" stroke-width="0.5" opacity="0.7" d="M235.50,227.40 C235.52,228.33 235.48,230.07 235.60,233.00 C235.72,235.93 236.03,241.17 236.20,245.00 C236.37,248.83 236.50,251.83 236.60,256.00 C236.70,260.17 236.80,265.67 236.80,270.00 C236.80,274.33 236.63,278.67 236.60,282.00 C236.57,285.33 236.43,287.00 236.60,290.00 C236.77,293.00 237.20,297.33 237.60,300.00 C238.00,302.67 238.47,304.27 239.00,306.00 C239.53,307.73 240.50,309.67 240.80,310.40"/><path d="M238.4,230.3 L261.5,231.5" stroke="#eca6d3" stroke-width="2.00" stroke-linecap="round" fill="none"/><path d="M238.6,236.0 L261.4,237.0" stroke="#eca6d3" stroke-width="1.87" stroke-linecap="round" fill="none"/><path d="M238.8,241.3 L260.9,242.1" stroke="#eca6d3" stroke-width="1.74" stroke-linecap="round" fill="none"/><path d="M239.1,246.3 L260.5,246.8" stroke="#eca6d3" stroke-width="1.62" stroke-linecap="round" fill="none"/><path d="M239.2,250.9 L260.1,251.2" stroke="#eca6d3" stroke-width="1.51" stroke-linecap="round" fill="none"/><path d="M239.4,255.1 L259.8,255.3" stroke="#eca6d3" stroke-width="1.40" stroke-linecap="round" fill="none"/><path d="M239.4,259.1 L259.7,259.2" stroke="#eca6d3" stroke-width="1.30" stroke-linecap="round" fill="none"/><path d="M239.5,262.8 L259.7,262.8" stroke="#eca6d3" stroke-width="1.21" stroke-linecap="round" fill="none"/><path d="M239.5,266.1 L259.7,266.1" stroke="#eca6d3" stroke-width="1.13" stroke-linecap="round" fill="none"/><path d="M239.6,269.3 L259.7,269.3" stroke="#eca6d3" stroke-width="1.05" stroke-linecap="round" fill="none"/><path d="M239.6,272.2 L259.8,272.2" stroke="#eca6d3" stroke-width="1.00" stroke-linecap="round" fill="none"/><path d="M239.5,274.9 L259.8,274.9" stroke="#eca6d3" stroke-width="1.00" stroke-linecap="round" fill="none"/><path d="M239.5,277.5 L259.9,277.5" stroke="#eca6d3" stroke-width="1.00" stroke-linecap="round" fill="none"/><path d="M239.4,280.1 L260.0,280.1" stroke="#eca6d3" stroke-width="1.00" stroke-linecap="round" fill="none"/><path d="M239.4,282.7 L260.0,282.7" stroke="#eca6d3" stroke-width="1.00" stroke-linecap="round" fill="none"/><path d="M239.4,285.3 L260.0,285.3" stroke="#eca6d3" stroke-width="1.00" stroke-linecap="round" fill="none"/><path d="M239.4,287.9 L260.1,287.9" stroke="#eca6d3" stroke-width="1.00" stroke-linecap="round" fill="none"/><path d="M239.4,290.5 L260.0,290.5" stroke="#eca6d3" stroke-width="1.00" stroke-linecap="round" fill="none"/><path d="M239.7,293.1 L259.8,293.1" stroke="#eca6d3" stroke-width="1.00" stroke-linecap="round" fill="none"/><path d="M240.0,295.7 L259.5,295.7" stroke="#eca6d3" stroke-width="1.00" stroke-linecap="round" fill="none"/><path d="M240.2,298.3 L259.2,298.3" stroke="#eca6d3" stroke-width="1.00" stroke-linecap="round" fill="none"/><path d="M240.6,300.9 L258.8,300.9" stroke="#eca6d3" stroke-width="1.00" stroke-linecap="round" fill="none"/><path d="M241.2,303.5 L258.2,303.5" stroke="#eca6d3" stroke-width="1.00" stroke-linecap="round" fill="none"/><path d="M241.8,306.1 L257.6,306.1" stroke="#eca6d3" stroke-width="1.00" stroke-linecap="round" fill="none"/><path d="M242.9,308.7 L256.5,308.7" stroke="#eca6d3" stroke-width="1.00" stroke-linecap="round" fill="none"/><path fill="#3a3a3a" d="M249.25,172 L249.6,180 L249.7,205 L249.85,226 L250.15,250 L250.6,270 C250.8,283 251.5,291 253.1,297 C255,304 257.8,309.4 262.2,314.8 C266.2,319.6 270.8,323 276.5,326 L275.1,329.1 C268.8,326 263.8,322.2 259.6,317.2 C255,311.6 251.9,305.2 250,298.2 C248.4,292 247.8,283 247.8,270 L248.3,250 L248.65,226 L248.8,205 L248.9,180 Z"/>
<g transform="translate(274.6,326.7) rotate(26.4)"><path fill="#66d3cf" d="M-1,-1.5 L3,-1.9 L30,-2.3 L37,-3.2 L47,-3.5 L47,3.5 L37,3.2 L30,2.3 L3,1.9 L-1,1.5 Z"/><path fill="#2ba19f" d="M-1.4,-1.5 L3,-1.9 L3,1.9 L-1.4,1.5 Z"/><path fill="#8fe3df" opacity="0.85" d="M5,-1.2 L30,-1.6 L36,-2.3 L46,-2.5 L46,-1.2 L36,-1 L5,-0.2 Z"/><path fill="#2fc2bd" d="M32,0 L46,0.2 L46,2.6 L36,2.4 Z"/><rect x="47" y="-3.6" width="8" height="7.2" fill="#e6def4"/><path fill="#4b4f55" d="M54.6,-3.4 L56.4,-4.3 L62,-4.3 L62.6,-3.4 L62.6,3.4 L62,4.3 L56.4,4.3 L54.6,3.4 Z"/><path fill="#686c73" d="M57.6,-4.3 L58.6,-4.3 L58.6,4.3 L57.6,4.3 Z M60,-4.3 L61,-4.3 L61,4.3 L60,4.3 Z"/><rect x="62.6" y="-3.5" width="55.4" height="7" fill="#3fc8c4"/><rect x="62.6" y="-1.9" width="55.4" height="1.3" fill="#6fd8d4"/><rect x="62.6" y="-3.6" width="55.4" height="1.0" fill="#9adbe6" opacity="0.8"/><rect x="62.6" y="2.8" width="55.4" height="0.9" fill="#c9d3ee"/><rect x="116.7" y="-7.2" width="2.4" height="14.4" rx="1.2" fill="#c9d0ef"/><path fill="#12c0b3" d="M119.1,-3.3 L143,-2 L143,2 L119.1,3.3 Z"/><path fill="#0aa99d" opacity="0.6" d="M119.1,0.2 L143,0.2 L143,0.9 L119.1,1.1 Z"/><rect x="143" y="-4.8" width="2.6" height="9.6" rx="0.9" fill="#12c0b3"/></g>
<circle cx="128.2" cy="299.7" r="71.4" fill="none" stroke="#a6368a" stroke-width="2"/><g transform="translate(96.1,259.6) rotate(0) scale(1.176)"><path d="M0,-6.4 C2.6,-6.4 3.9,-3.6 3.8,-0.6 C3.6,2.4 2.2,4.6 1.1,5.8 L1.15,9 C1,13 0.6,17 -0.1,21.5 L-1.3,21.5 C-1,17 -1,13 -1.1,9 L-1.15,5.8 C-2.2,4.6 -3.6,2.4 -3.8,-0.6 C-3.9,-3.6 -2.6,-6.4 0,-6.4 Z" fill="#2d2d2d"/><path d="M-0.6,12 C-0.6,16 -1.4,19 -2.6,23 C-4,27.5 -4.8,30 -3.4,34 C-2.2,37 0.2,39 -0.2,43 C-0.5,45.5 -1.8,47 -3,48.5" stroke="#333" stroke-width="1.1" fill="none" stroke-linecap="round"/></g><g transform="translate(113.6,253.6) rotate(8) scale(0.861)"><path d="M0,-6.4 C2.6,-6.4 3.9,-3.6 3.8,-0.6 C3.6,2.4 2.2,4.6 1.1,5.8 L1.15,9 C1,13 0.6,17 -0.1,21.5 L-1.3,21.5 C-1,17 -1,13 -1.1,9 L-1.15,5.8 C-2.2,4.6 -3.6,2.4 -3.8,-0.6 C-3.9,-3.6 -2.6,-6.4 0,-6.4 Z" fill="#2d2d2d"/><path d="M-0.6,12 C-0.6,16 0.4,19.5 1.4,23.5 C2.6,28 3.4,31 2,35 C0.8,38.5 -1.4,40.5 -1,44 C-0.7,46 0.4,47.5 1.4,48.5" stroke="#333" stroke-width="1.1" fill="none" stroke-linecap="round"/></g><g transform="translate(124.7,242.2) rotate(14) scale(0.756)"><path d="M0,-6.4 C2.6,-6.4 3.9,-3.6 3.8,-0.6 C3.6,2.4 2.2,4.6 1.1,5.8 L1.15,9 C1,13 0.6,17 -0.1,21.5 L-1.3,21.5 C-1,17 -1,13 -1.1,9 L-1.15,5.8 C-2.2,4.6 -3.6,2.4 -3.8,-0.6 C-3.9,-3.6 -2.6,-6.4 0,-6.4 Z" fill="#2d2d2d"/><path d="M-0.6,12 C-0.6,16 0.4,19.5 1.4,23.5 C2.6,28 3.4,31 2,35 C0.8,38.5 -1.4,40.5 -1,44 C-0.7,46 0.4,47.5 1.4,48.5" stroke="#333" stroke-width="1.1" fill="none" stroke-linecap="round"/></g><g transform="translate(125.3,262.4) rotate(0) scale(0.997)"><path d="M0,-6.4 C2.6,-6.4 3.9,-3.6 3.8,-0.6 C3.6,2.4 2.2,4.6 1.1,5.8 L1.15,9 C1,13 0.6,17 -0.1,21.5 L-1.3,21.5 C-1,17 -1,13 -1.1,9 L-1.15,5.8 C-2.2,4.6 -3.6,2.4 -3.8,-0.6 C-3.9,-3.6 -2.6,-6.4 0,-6.4 Z" fill="#2d2d2d"/><path d="M-0.6,12 C-0.8,16 -1.2,19.5 -0.8,23.5 C-0.4,28 2,31 1.6,35.5 C1.2,39 -1.2,41 -1.4,44.5 C-1.6,47 -0.4,48.5 0.4,50" stroke="#333" stroke-width="1.1" fill="none" stroke-linecap="round"/></g><g transform="translate(135.4,260.0) rotate(-18) scale(0.840)"><path d="M0,-6.4 C2.6,-6.4 3.9,-3.6 3.8,-0.6 C3.6,2.4 2.2,4.6 1.1,5.8 L1.15,9 C1,13 0.6,17 -0.1,21.5 L-1.3,21.5 C-1,17 -1,13 -1.1,9 L-1.15,5.8 C-2.2,4.6 -3.6,2.4 -3.8,-0.6 C-3.9,-3.6 -2.6,-6.4 0,-6.4 Z" fill="#2d2d2d"/><path d="M-0.6,12 C-0.8,16 -1.2,19.5 -0.8,23.5 C-0.4,28 2,31 1.6,35.5 C1.2,39 -1.2,41 -1.4,44.5 C-1.6,47 -0.4,48.5 0.4,50" stroke="#333" stroke-width="1.1" fill="none" stroke-linecap="round"/></g><g transform="translate(142.8,250.6) rotate(-12) scale(1.176)"><path d="M0,-6.4 C2.6,-6.4 3.9,-3.6 3.8,-0.6 C3.6,2.4 2.2,4.6 1.1,5.8 L1.15,9 C1,13 0.6,17 -0.1,21.5 L-1.3,21.5 C-1,17 -1,13 -1.1,9 L-1.15,5.8 C-2.2,4.6 -3.6,2.4 -3.8,-0.6 C-3.9,-3.6 -2.6,-6.4 0,-6.4 Z" fill="#2d2d2d"/><path d="M-0.6,12 C-0.8,16 -1.2,19.5 -0.8,23.5 C-0.4,28 2,31 1.6,35.5 C1.2,39 -1.2,41 -1.4,44.5 C-1.6,47 -0.4,48.5 0.4,50" stroke="#333" stroke-width="1.1" fill="none" stroke-linecap="round"/></g><g transform="translate(151.8,259.0) rotate(40) scale(0.945)"><path d="M0,-6.4 C2.6,-6.4 3.9,-3.6 3.8,-0.6 C3.6,2.4 2.2,4.6 1.1,5.8 L1.15,9 C1,13 0.6,17 -0.1,21.5 L-1.3,21.5 C-1,17 -1,13 -1.1,9 L-1.15,5.8 C-2.2,4.6 -3.6,2.4 -3.8,-0.6 C-3.9,-3.6 -2.6,-6.4 0,-6.4 Z" fill="#2d2d2d"/><path d="M-0.6,12 C-0.6,16 0.4,19.5 1.4,23.5 C2.6,28 3.4,31 2,35 C0.8,38.5 -1.4,40.5 -1,44 C-0.7,46 0.4,47.5 1.4,48.5" stroke="#333" stroke-width="1.1" fill="none" stroke-linecap="round"/></g><g transform="translate(157.7,270.0) rotate(10) scale(0.892)"><path d="M0,-6.4 C2.6,-6.4 3.9,-3.6 3.8,-0.6 C3.6,2.4 2.2,4.6 1.1,5.8 L1.15,9 C1,13 0.6,17 -0.1,21.5 L-1.3,21.5 C-1,17 -1,13 -1.1,9 L-1.15,5.8 C-2.2,4.6 -3.6,2.4 -3.8,-0.6 C-3.9,-3.6 -2.6,-6.4 0,-6.4 Z" fill="#2d2d2d"/><path d="M-0.6,12 C-0.6,16 -1.4,19 -2.6,23 C-4,27.5 -4.8,30 -3.4,34 C-2.2,37 0.2,39 -0.2,43 C-0.5,45.5 -1.8,47 -3,48.5" stroke="#333" stroke-width="1.1" fill="none" stroke-linecap="round"/></g><g transform="translate(102.5,284.8) rotate(12) scale(0.945)"><path d="M0,-6.4 C2.6,-6.4 3.9,-3.6 3.8,-0.6 C3.6,2.4 2.2,4.6 1.1,5.8 L1.15,9 C1,13 0.6,17 -0.1,21.5 L-1.3,21.5 C-1,17 -1,13 -1.1,9 L-1.15,5.8 C-2.2,4.6 -3.6,2.4 -3.8,-0.6 C-3.9,-3.6 -2.6,-6.4 0,-6.4 Z" fill="#2d2d2d"/><path d="M-0.6,12 C-0.6,16 0.4,19.5 1.4,23.5 C2.6,28 3.4,31 2,35 C0.8,38.5 -1.4,40.5 -1,44 C-0.7,46 0.4,47.5 1.4,48.5" stroke="#333" stroke-width="1.1" fill="none" stroke-linecap="round"/></g><g transform="translate(116.2,289.2) rotate(-14) scale(0.788)"><path d="M0,-6.4 C2.6,-6.4 3.9,-3.6 3.8,-0.6 C3.6,2.4 2.2,4.6 1.1,5.8 L1.15,9 C1,13 0.6,17 -0.1,21.5 L-1.3,21.5 C-1,17 -1,13 -1.1,9 L-1.15,5.8 C-2.2,4.6 -3.6,2.4 -3.8,-0.6 C-3.9,-3.6 -2.6,-6.4 0,-6.4 Z" fill="#2d2d2d"/><path d="M-0.6,12 C-0.8,16 -1.2,19.5 -0.8,23.5 C-0.4,28 2,31 1.6,35.5 C1.2,39 -1.2,41 -1.4,44.5 C-1.6,47 -0.4,48.5 0.4,50" stroke="#333" stroke-width="1.1" fill="none" stroke-linecap="round"/></g><g transform="translate(107,300.8) rotate(-6) scale(1.103)"><path d="M0,-6.4 C2.6,-6.4 3.9,-3.6 3.8,-0.6 C3.6,2.4 2.2,4.6 1.1,5.8 L1.15,9 C1,13 0.6,17 -0.1,21.5 L-1.3,21.5 C-1,17 -1,13 -1.1,9 L-1.15,5.8 C-2.2,4.6 -3.6,2.4 -3.8,-0.6 C-3.9,-3.6 -2.6,-6.4 0,-6.4 Z" fill="#2d2d2d"/><path d="M-0.6,12 C-0.8,16 -1.2,19.5 -0.8,23.5 C-0.4,28 2,31 1.6,35.5 C1.2,39 -1.2,41 -1.4,44.5 C-1.6,47 -0.4,48.5 0.4,50" stroke="#333" stroke-width="1.1" fill="none" stroke-linecap="round"/></g><g transform="translate(136.5,291.0) rotate(4) scale(1.208)"><path d="M0,-6.4 C2.6,-6.4 3.9,-3.6 3.8,-0.6 C3.6,2.4 2.2,4.6 1.1,5.8 L1.15,9 C1,13 0.6,17 -0.1,21.5 L-1.3,21.5 C-1,17 -1,13 -1.1,9 L-1.15,5.8 C-2.2,4.6 -3.6,2.4 -3.8,-0.6 C-3.9,-3.6 -2.6,-6.4 0,-6.4 Z" fill="#2d2d2d"/><path d="M-0.6,12 C-0.6,16 -1.4,19 -2.6,23 C-4,27.5 -4.8,30 -3.4,34 C-2.2,37 0.2,39 -0.2,43 C-0.5,45.5 -1.8,47 -3,48.5" stroke="#333" stroke-width="1.1" fill="none" stroke-linecap="round"/></g><g transform="translate(159.8,296.0) rotate(38) scale(0.997)"><path d="M0,-6.4 C2.6,-6.4 3.9,-3.6 3.8,-0.6 C3.6,2.4 2.2,4.6 1.1,5.8 L1.15,9 C1,13 0.6,17 -0.1,21.5 L-1.3,21.5 C-1,17 -1,13 -1.1,9 L-1.15,5.8 C-2.2,4.6 -3.6,2.4 -3.8,-0.6 C-3.9,-3.6 -2.6,-6.4 0,-6.4 Z" fill="#2d2d2d"/><path d="M-0.6,12 C-0.6,16 0.4,19.5 1.4,23.5 C2.6,28 3.4,31 2,35 C0.8,38.5 -1.4,40.5 -1,44 C-0.7,46 0.4,47.5 1.4,48.5" stroke="#333" stroke-width="1.1" fill="none" stroke-linecap="round"/></g><g transform="translate(142,302) rotate(-4) scale(0.788)"><path d="M0,-6.4 C2.6,-6.4 3.9,-3.6 3.8,-0.6 C3.6,2.4 2.2,4.6 1.1,5.8 L1.15,9 C1,13 0.6,17 -0.1,21.5 L-1.3,21.5 C-1,17 -1,13 -1.1,9 L-1.15,5.8 C-2.2,4.6 -3.6,2.4 -3.8,-0.6 C-3.9,-3.6 -2.6,-6.4 0,-6.4 Z" fill="#2d2d2d"/><path d="M-0.6,12 C-0.6,16 -1.4,19 -2.6,23 C-4,27.5 -4.8,30 -3.4,34 C-2.2,37 0.2,39 -0.2,43 C-0.5,45.5 -1.8,47 -3,48.5" stroke="#333" stroke-width="1.1" fill="none" stroke-linecap="round"/></g><g transform="translate(117.7,315) rotate(0) scale(0.735)"><path d="M0,-6.4 C2.6,-6.4 3.9,-3.6 3.8,-0.6 C3.6,2.4 2.2,4.6 1.1,5.8 L1.15,9 C1,13 0.6,17 -0.1,21.5 L-1.3,21.5 C-1,17 -1,13 -1.1,9 L-1.15,5.8 C-2.2,4.6 -3.6,2.4 -3.8,-0.6 C-3.9,-3.6 -2.6,-6.4 0,-6.4 Z" fill="#2d2d2d"/><path d="M-0.6,12 C-0.8,16 -1.2,19.5 -0.8,23.5 C-0.4,28 2,31 1.6,35.5 C1.2,39 -1.2,41 -1.4,44.5 C-1.6,47 -0.4,48.5 0.4,50" stroke="#333" stroke-width="1.1" fill="none" stroke-linecap="round"/></g><g transform="translate(123.2,327.6) rotate(-4) scale(0.735)"><path d="M0,-6.4 C2.6,-6.4 3.9,-3.6 3.8,-0.6 C3.6,2.4 2.2,4.6 1.1,5.8 L1.15,9 C1,13 0.6,17 -0.1,21.5 L-1.3,21.5 C-1,17 -1,13 -1.1,9 L-1.15,5.8 C-2.2,4.6 -3.6,2.4 -3.8,-0.6 C-3.9,-3.6 -2.6,-6.4 0,-6.4 Z" fill="#2d2d2d"/><path d="M-0.6,12 C-0.8,16 -1.2,19.5 -0.8,23.5 C-0.4,28 2,31 1.6,35.5 C1.2,39 -1.2,41 -1.4,44.5 C-1.6,47 -0.4,48.5 0.4,50" stroke="#333" stroke-width="1.1" fill="none" stroke-linecap="round"/></g>
<path fill="#a6368a" d="M180.60,359.20 C182.25,360.25 187.12,363.58 190.50,365.50 C193.88,367.42 197.45,369.23 200.90,370.70 C204.35,372.17 207.75,373.18 211.20,374.30 C214.65,375.42 218.15,376.53 221.60,377.40 C225.05,378.27 228.47,378.90 231.90,379.50 C235.33,380.10 238.75,380.53 242.20,381.00 C245.65,381.47 249.63,381.93 252.60,382.30 C255.57,382.67 257.05,382.95 260.00,383.20 C262.95,383.45 266.85,383.73 270.30,383.80 C273.75,383.87 277.25,383.73 280.70,383.60 C284.15,383.47 287.55,383.32 291.00,383.00 C294.45,382.68 297.95,382.17 301.40,381.70 C304.85,381.23 307.82,380.80 311.70,380.20 C315.58,379.60 322.53,378.45 324.70,378.10 L323.3,374.8 L340.6,380.5 L327,392.8 L326.2,389 C325.52,389.13 324.52,389.50 322.10,389.80 C319.68,390.10 315.15,390.55 311.70,390.80 C308.25,391.05 304.85,391.17 301.40,391.30 C297.95,391.43 294.45,391.65 291.00,391.60 C287.55,391.55 284.15,391.23 280.70,391.00 C277.25,390.77 273.75,390.53 270.30,390.20 C266.85,389.87 262.95,389.40 260.00,389.00 C257.05,388.60 255.57,388.35 252.60,387.80 C249.63,387.25 245.65,386.48 242.20,385.70 C238.75,384.92 235.33,384.05 231.90,383.10 C228.47,382.15 225.05,381.12 221.60,380.00 C218.15,378.88 214.65,377.70 211.20,376.40 C207.75,375.10 204.35,373.83 200.90,372.20 C197.45,370.57 193.88,368.73 190.50,366.60 C187.12,364.47 182.25,360.60 180.60,359.40 Z"/>
</g>
<g id="ivf">
<g transform="translate(572.2,-3.8)"><path fill="#f9c5d3" d="M250,91.8 C236,91.8 225,98 214,108 C205,116 197,121 188,121.5 L200,131 C204,137 206,142 207,146 L211,166 C213,172 215,176 218.4,182 C222,189 224.5,194 225.2,199 C226,204 225,207 223.7,210 C222.2,214 221.7,219 221.9,222.7 C222.2,227 222.8,230 223.7,232.6 C225,236.5 226.5,240 227.7,243 C229.5,247 230.5,250 230.8,254 L231.6,268 L232.5,286.5 C233,295 234,300 235.4,305.4 C236.5,309.5 238,312.5 240,314.2 C243,316 246,316.3 250,316.3 Z"/><g transform="translate(498.6,0) scale(-1,1)"><path fill="#f9c5d3" d="M250,91.8 C236,91.8 225,98 214,108 C205,116 197,121 188,121.5 L200,131 C204,137 206,142 207,146 L211,166 C213,172 215,176 218.4,182 C222,189 224.5,194 225.2,199 C226,204 225,207 223.7,210 C222.2,214 221.7,219 221.9,222.7 C222.2,227 222.8,230 223.7,232.6 C225,236.5 226.5,240 227.7,243 C229.5,247 230.5,250 230.8,254 L231.6,268 L232.5,286.5 C233,295 234,300 235.4,305.4 C236.5,309.5 238,312.5 240,314.2 C243,316 246,316.3 250,316.3 Z"/></g><path fill="#fdbc9e" d="M374,150 C366,141 352,139 342,142.5 C334,145.5 328.5,151 326.5,157.5
C322,162.5 316,165 309.5,164.5 C303,164 298,160 295.5,154 C294.5,150.5 293.5,146.5 291.5,144.2 C289,143 287,145.5 285.5,149
C283.5,154 282.2,160 283.5,165 C284.5,168 287,167.8 289.5,168.3 C296,170 302.5,172.8 310,174 C318,175.3 325,175 331,175.8
C337,178.5 344,179.6 350.5,179.2 C360,178.5 369,175 374,170 Z"/><clipPath id="ovrclip"><path d="M374,150 C366,141 352,139 342,142.5 C334,145.5 328.5,151 326.5,157.5 L320,164 L320,174 L331,175.8 C337,178.5 344,179.6 350.5,179.2 C360,178.5 369,175 374,170 Z"/></clipPath><g clip-path="url(#ovrclip)"><path fill="#fcad8e" transform="translate(-2.6,1.2)" d="M393.60,133.20 C392.60,132.13 387.88,132.65 385.00,132.60 C382.12,132.55 379.50,132.68 376.30,132.90 C373.10,133.12 369.73,133.43 365.80,133.90 C361.87,134.37 356.62,135.00 352.70,135.70 C348.78,136.40 345.02,137.52 342.30,138.10 C339.58,138.68 337.75,138.77 336.40,139.20 C335.05,139.63 334.20,140.20 334.20,140.70 C334.20,141.20 335.10,141.78 336.40,142.20 C337.70,142.62 340.13,142.97 342.00,143.20 C343.87,143.43 347.75,143.05 347.60,143.60 C347.45,144.15 342.43,145.61 341.10,146.51 C339.77,147.41 338.94,148.32 339.60,149.00 C340.26,149.68 342.88,150.45 345.05,150.58 C347.22,150.71 352.32,149.19 352.60,149.80 C352.88,150.42 347.92,152.97 346.75,154.27 C345.58,155.57 344.84,156.91 345.60,157.60 C346.36,158.29 349.03,158.64 351.33,158.41 C353.63,158.18 359.01,155.76 359.40,156.20 C359.79,156.64 354.81,159.66 353.68,161.06 C352.55,162.46 351.90,163.93 352.60,164.60 C353.31,165.27 355.81,165.46 357.91,165.06 C360.01,164.66 364.89,161.89 365.20,162.20 C365.50,162.51 360.81,165.56 359.74,166.93 C358.67,168.30 358.17,169.86 358.80,170.40 C359.44,170.94 361.72,170.89 363.55,170.16 C365.38,169.43 369.54,165.91 369.80,166.00 C370.06,166.09 365.99,169.36 365.12,170.73 C364.25,172.10 364.07,173.79 364.60,174.20 C365.13,174.61 366.97,174.29 368.30,173.19 C369.63,172.09 372.04,167.61 372.60,167.60 C373.17,167.59 371.59,171.54 371.69,173.11 C371.79,174.68 372.56,176.62 373.20,177.00 C373.83,177.38 374.83,176.76 375.50,175.36 C376.17,173.96 376.79,168.79 377.20,168.60 C377.61,168.41 377.45,172.64 377.98,174.24 C378.51,175.84 379.74,177.84 380.40,178.20 C381.06,178.56 381.65,177.89 381.96,176.42 C382.28,174.95 382.09,171.64 382.30,169.40 C382.51,167.16 382.82,165.40 383.20,163.00 C383.58,160.60 383.90,157.75 384.60,155.00 C385.30,152.25 386.33,149.17 387.40,146.50 C388.47,143.83 389.97,141.22 391.00,139.00 C392.03,136.78 394.60,134.27 393.60,133.20 Z"/></g><path fill="#f9c5d3" d="M393.60,133.20 C392.60,132.13 387.88,132.65 385.00,132.60 C382.12,132.55 379.50,132.68 376.30,132.90 C373.10,133.12 369.73,133.43 365.80,133.90 C361.87,134.37 356.62,135.00 352.70,135.70 C348.78,136.40 345.02,137.52 342.30,138.10 C339.58,138.68 337.75,138.77 336.40,139.20 C335.05,139.63 334.20,140.20 334.20,140.70 C334.20,141.20 335.10,141.78 336.40,142.20 C337.70,142.62 340.13,142.97 342.00,143.20 C343.87,143.43 347.75,143.05 347.60,143.60 C347.45,144.15 342.43,145.61 341.10,146.51 C339.77,147.41 338.94,148.32 339.60,149.00 C340.26,149.68 342.88,150.45 345.05,150.58 C347.22,150.71 352.32,149.19 352.60,149.80 C352.88,150.42 347.92,152.97 346.75,154.27 C345.58,155.57 344.84,156.91 345.60,157.60 C346.36,158.29 349.03,158.64 351.33,158.41 C353.63,158.18 359.01,155.76 359.40,156.20 C359.79,156.64 354.81,159.66 353.68,161.06 C352.55,162.46 351.90,163.93 352.60,164.60 C353.31,165.27 355.81,165.46 357.91,165.06 C360.01,164.66 364.89,161.89 365.20,162.20 C365.50,162.51 360.81,165.56 359.74,166.93 C358.67,168.30 358.17,169.86 358.80,170.40 C359.44,170.94 361.72,170.89 363.55,170.16 C365.38,169.43 369.54,165.91 369.80,166.00 C370.06,166.09 365.99,169.36 365.12,170.73 C364.25,172.10 364.07,173.79 364.60,174.20 C365.13,174.61 366.97,174.29 368.30,173.19 C369.63,172.09 372.04,167.61 372.60,167.60 C373.17,167.59 371.59,171.54 371.69,173.11 C371.79,174.68 372.56,176.62 373.20,177.00 C373.83,177.38 374.83,176.76 375.50,175.36 C376.17,173.96 376.79,168.79 377.20,168.60 C377.61,168.41 377.45,172.64 377.98,174.24 C378.51,175.84 379.74,177.84 380.40,178.20 C381.06,178.56 381.65,177.89 381.96,176.42 C382.28,174.95 382.09,171.64 382.30,169.40 C382.51,167.16 382.82,165.40 383.20,163.00 C383.58,160.60 383.90,157.75 384.60,155.00 C385.30,152.25 386.33,149.17 387.40,146.50 C388.47,143.83 389.97,141.22 391.00,139.00 C392.03,136.78 394.60,134.27 393.60,133.20 Z"/><path fill="#f9c5d3" d="M108.00,103.00 C108.67,102.57 110.42,100.80 112.00,100.40 C113.58,100.00 115.67,100.23 117.50,100.60 C119.33,100.97 121.08,101.75 123.00,102.60 C124.92,103.45 126.83,104.70 129.00,105.70 C131.17,106.70 133.67,108.02 136.00,108.60 C138.33,109.18 140.67,108.83 143.00,109.20 C145.33,109.57 147.83,109.87 150.00,110.80 C152.17,111.73 153.67,113.03 156.00,114.80 C158.33,116.57 161.50,119.57 164.00,121.40 C166.50,123.23 168.33,124.43 171.00,125.80 C173.67,127.17 177.17,128.63 180.00,129.60 C182.83,130.57 185.33,131.20 188.00,131.60 C190.67,132.00 193.50,132.07 196.00,132.00 C198.50,131.93 200.83,131.62 203.00,131.20 C205.17,130.78 208.00,129.78 209.00,129.50 L210.8,132.8 L207.8,132.8 C206.80,133.08 203.97,134.08 201.80,134.50 C199.63,134.92 197.30,135.23 194.80,135.30 C192.30,135.37 189.47,135.30 186.80,134.90 C184.13,134.50 181.63,133.87 178.80,132.90 C175.97,131.93 172.47,130.47 169.80,129.10 C167.13,127.73 165.30,126.53 162.80,124.70 C160.30,122.87 157.13,119.87 154.80,118.10 C152.47,116.33 150.97,115.03 148.80,114.10 C146.63,113.17 144.13,112.87 141.80,112.50 C139.47,112.13 137.13,112.48 134.80,111.90 C132.47,111.32 129.97,110.00 127.80,109.00 C125.63,108.00 123.72,106.75 121.80,105.90 C119.88,105.05 118.13,104.27 116.30,103.90 C114.47,103.53 112.38,103.30 110.80,103.70 C109.22,104.10 107.47,105.87 106.80,106.30 Z"/><g transform="translate(498.6,0) scale(-1,1)"><path fill="#f9c5d3" d="M108.00,103.00 C108.67,102.57 110.42,100.80 112.00,100.40 C113.58,100.00 115.67,100.23 117.50,100.60 C119.33,100.97 121.08,101.75 123.00,102.60 C124.92,103.45 126.83,104.70 129.00,105.70 C131.17,106.70 133.67,108.02 136.00,108.60 C138.33,109.18 140.67,108.83 143.00,109.20 C145.33,109.57 147.83,109.87 150.00,110.80 C152.17,111.73 153.67,113.03 156.00,114.80 C158.33,116.57 161.50,119.57 164.00,121.40 C166.50,123.23 168.33,124.43 171.00,125.80 C173.67,127.17 177.17,128.63 180.00,129.60 C182.83,130.57 185.33,131.20 188.00,131.60 C190.67,132.00 193.50,132.07 196.00,132.00 C198.50,131.93 200.83,131.62 203.00,131.20 C205.17,130.78 208.00,129.78 209.00,129.50 L210.8,132.8 L207.8,132.8 C206.80,133.08 203.97,134.08 201.80,134.50 C199.63,134.92 197.30,135.23 194.80,135.30 C192.30,135.37 189.47,135.30 186.80,134.90 C184.13,134.50 181.63,133.87 178.80,132.90 C175.97,131.93 172.47,130.47 169.80,129.10 C167.13,127.73 165.30,126.53 162.80,124.70 C160.30,122.87 157.13,119.87 154.80,118.10 C152.47,116.33 150.97,115.03 148.80,114.10 C146.63,113.17 144.13,112.87 141.80,112.50 C139.47,112.13 137.13,112.48 134.80,111.90 C132.47,111.32 129.97,110.00 127.80,109.00 C125.63,108.00 123.72,106.75 121.80,105.90 C119.88,105.05 118.13,104.27 116.30,103.90 C114.47,103.53 112.38,103.30 110.80,103.70 C109.22,104.10 107.47,105.87 106.80,106.30 Z"/></g><path fill="none" stroke="#ee8db2" stroke-width="4.0" stroke-linecap="round" stroke-dasharray="0.01 3.3" d="M219,124.5 C221,124.4 222.8,125.8 224.2,127 C226.2,128.6 228,129.8 229.3,131.2 C230.8,133 231.6,134.8 232.4,136.4 C233.3,138 234,139 234.5,140 C235,141.2 235.3,142.3 235.5,143.3 C236.6,147 237.6,150.3 238.6,153.6 C239.7,156.6 241,159.3 242.3,161.9 C243.5,164.5 244.7,166.8 245.9,169.1"/><path fill="none" stroke="#ee8db2" stroke-width="4.0" stroke-linecap="round" stroke-dasharray="0.01 3.3" d="M250,104.3 C246,104.4 243,104.8 239.7,105.6 C236.5,106.3 234,107 231.4,107.9 C228.5,108.9 226.3,109.9 224.2,111 C222,112.3 220.5,113.8 219,115.4 C217.5,116.8 216,118 214,119.2"/><g transform="translate(498.6,0) scale(-1,1)"><path fill="none" stroke="#ee8db2" stroke-width="4.0" stroke-linecap="round" stroke-dasharray="0.01 3.3" d="M219,124.5 C221,124.4 222.8,125.8 224.2,127 C226.2,128.6 228,129.8 229.3,131.2 C230.8,133 231.6,134.8 232.4,136.4 C233.3,138 234,139 234.5,140 C235,141.2 235.3,142.3 235.5,143.3 C236.6,147 237.6,150.3 238.6,153.6 C239.7,156.6 241,159.3 242.3,161.9 C243.5,164.5 244.7,166.8 245.9,169.1"/><path fill="none" stroke="#ee8db2" stroke-width="4.0" stroke-linecap="round" stroke-dasharray="0.01 3.3" d="M250,104.3 C246,104.4 243,104.8 239.7,105.6 C236.5,106.3 234,107 231.4,107.9 C228.5,108.9 226.3,109.9 224.2,111 C222,112.3 220.5,113.8 219,115.4 C217.5,116.8 216,118 214,119.2"/></g><clipPath id="vtl"><path d="
M250,104.3 C246,104.4 243,104.8 239.7,105.6 C236.5,106.3 234,107 231.4,107.9 C228.5,108.9 226.3,109.9 224.2,111 C222,112.3 220.5,113.8 219,115.4
C217.5,116.8 216,118 214,119.2 C210.5,121.3 207.5,122.6 204.5,123.2 C201,124 198,124.2 195,123.9 C193.83,123.78 190.83,123.75 188.00,123.20 C185.17,122.65 181.07,121.60 178.00,120.60 C174.93,119.60 172.37,118.63 169.60,117.20 C166.83,115.77 163.83,113.90 161.40,112.00 C158.97,110.10 156.90,107.48 155.00,105.80 C153.10,104.12 151.83,102.95 150.00,101.90 C148.17,100.85 145.00,99.90 144.00,99.50
C137,97.3 130,95.5 124,93.7 C118,91.9 114,90 110,88 C106.5,86.2 103.5,85 101,86
C97.5,88 95.5,92 94.3,97 C93,102.5 93.3,108 95,114 C96.5,119.5 99,124 102,129
C105,134 108.5,139 111.5,144.5 C114.5,150 116.5,155 117.5,160 L118.4,170 L127,173 L130,160
L132,146 L140,139 L152,139.5 C156,140.3 160,140.8 163,140.4 C165,140 165.8,139 165,138.3
C162,137.6 158.5,137.4 155,136.6 C150,135.3 146,133.6 141,132.5 C135,131.2 129,131 123.5,130
C118.5,129 114.5,127.5 112.6,125 C111,122.8 110.8,120 110,117.5 C109,114.5 107.2,112.5 106.9,109.5
C106.6,106.5 107.5,103.5 109.5,101.8 C111.5,100 114.5,99.6 117.5,100.3 C121.5,101.2 125,103.3 129,105.5
C133.5,108 138,108.8 143,109 C144.17,109.30 147.83,109.83 150.00,110.80 C152.17,111.77 153.67,113.03 156.00,114.80 C158.33,116.57 161.50,119.57 164.00,121.40 C166.50,123.23 168.33,124.43 171.00,125.80 C173.67,127.17 177.17,128.63 180.00,129.60 C182.83,130.57 185.33,131.20 188.00,131.60 C190.67,132.00 193.50,132.07 196.00,132.00 C198.50,131.93 200.83,131.62 203.00,131.20 C205.17,130.78 207.17,130.17 209.00,129.50 C210.83,128.83 212.33,128.02 214.00,127.20 C215.67,126.38 218.17,125.03 219.00,124.60
C221,124.4 222.8,125.8 224.2,127 C226.2,128.6 228,129.8 229.3,131.2 C230.8,133 231.6,134.8 232.4,136.4 C233.3,138 234,139 234.5,140
C235,141.2 235.3,142.3 235.5,143.3 C236.6,147 237.6,150.3 238.6,153.6 C239.7,156.6 241,159.3 242.3,161.9 C243.5,164.5 244.7,166.8 245.9,169.1
C246.8,171 247.6,172.6 248.3,174.3 L250,176 Z"/></clipPath><path d="
M250,104.3 C246,104.4 243,104.8 239.7,105.6 C236.5,106.3 234,107 231.4,107.9 C228.5,108.9 226.3,109.9 224.2,111 C222,112.3 220.5,113.8 219,115.4
C217.5,116.8 216,118 214,119.2 C210.5,121.3 207.5,122.6 204.5,123.2 C201,124 198,124.2 195,123.9 C193.83,123.78 190.83,123.75 188.00,123.20 C185.17,122.65 181.07,121.60 178.00,120.60 C174.93,119.60 172.37,118.63 169.60,117.20 C166.83,115.77 163.83,113.90 161.40,112.00 C158.97,110.10 156.90,107.48 155.00,105.80 C153.10,104.12 151.83,102.95 150.00,101.90 C148.17,100.85 145.00,99.90 144.00,99.50
C137,97.3 130,95.5 124,93.7 C118,91.9 114,90 110,88 C106.5,86.2 103.5,85 101,86
C97.5,88 95.5,92 94.3,97 C93,102.5 93.3,108 95,114 C96.5,119.5 99,124 102,129
C105,134 108.5,139 111.5,144.5 C114.5,150 116.5,155 117.5,160 L118.4,170 L127,173 L130,160
L132,146 L140,139 L152,139.5 C156,140.3 160,140.8 163,140.4 C165,140 165.8,139 165,138.3
C162,137.6 158.5,137.4 155,136.6 C150,135.3 146,133.6 141,132.5 C135,131.2 129,131 123.5,130
C118.5,129 114.5,127.5 112.6,125 C111,122.8 110.8,120 110,117.5 C109,114.5 107.2,112.5 106.9,109.5
C106.6,106.5 107.5,103.5 109.5,101.8 C111.5,100 114.5,99.6 117.5,100.3 C121.5,101.2 125,103.3 129,105.5
C133.5,108 138,108.8 143,109 C144.17,109.30 147.83,109.83 150.00,110.80 C152.17,111.77 153.67,113.03 156.00,114.80 C158.33,116.57 161.50,119.57 164.00,121.40 C166.50,123.23 168.33,124.43 171.00,125.80 C173.67,127.17 177.17,128.63 180.00,129.60 C182.83,130.57 185.33,131.20 188.00,131.60 C190.67,132.00 193.50,132.07 196.00,132.00 C198.50,131.93 200.83,131.62 203.00,131.20 C205.17,130.78 207.17,130.17 209.00,129.50 C210.83,128.83 212.33,128.02 214.00,127.20 C215.67,126.38 218.17,125.03 219.00,124.60
C221,124.4 222.8,125.8 224.2,127 C226.2,128.6 228,129.8 229.3,131.2 C230.8,133 231.6,134.8 232.4,136.4 C233.3,138 234,139 234.5,140
C235,141.2 235.3,142.3 235.5,143.3 C236.6,147 237.6,150.3 238.6,153.6 C239.7,156.6 241,159.3 242.3,161.9 C243.5,164.5 244.7,166.8 245.9,169.1
C246.8,171 247.6,172.6 248.3,174.3 L250,176 Z" fill="#e9a2cf"/><path d="M250,104.3 C246,104.4 243,104.8 239.7,105.6 C236.5,106.3 234,107 231.4,107.9 C228.5,108.9 226.3,109.9 224.2,111 C222,112.3 220.5,113.8 219,115.4
C217.5,116.8 216,118 214,119.2 C210.5,121.3 207.5,122.6 204.5,123.2 C201,124 198,124.2 195,123.9 C193.83,123.78 190.83,123.75 188.00,123.20 C185.17,122.65 181.07,121.60 178.00,120.60 C174.93,119.60 172.37,118.63 169.60,117.20 C166.83,115.77 163.83,113.90 161.40,112.00 C158.97,110.10 156.90,107.48 155.00,105.80 C153.10,104.12 151.83,102.95 150.00,101.90 C148.17,100.85 145.00,99.90 144.00,99.50
C137,97.3 130,95.5 124,93.7 C118,91.9 114,90 110,88 C106.5,86.2 103.5,85 101,86
C97.5,88 95.5,92 94.3,97 C93,102.5 93.3,108 95,114 C96.5,119.5 99,124 102,129
C105,134 108.5,139 111.5,144.5 C114.5,150 116.5,155 117.5,160 L118.4,170 L127,173 L130,160
L132,146 L140,139 L152,139.5 C156,140.3 160,140.8 163,140.4 C165,140 165.8,139 165,138.3
C162,137.6 158.5,137.4 155,136.6 C150,135.3 146,133.6 141,132.5 C135,131.2 129,131 123.5,130
C118.5,129 114.5,127.5 112.6,125 C111,122.8 110.8,120 110,117.5 C109,114.5 107.2,112.5 106.9,109.5
C106.6,106.5 107.5,103.5 109.5,101.8 C111.5,100 114.5,99.6 117.5,100.3 C121.5,101.2 125,103.3 129,105.5
C133.5,108 138,108.8 143,109 C144.17,109.30 147.83,109.83 150.00,110.80 C152.17,111.77 153.67,113.03 156.00,114.80 C158.33,116.57 161.50,119.57 164.00,121.40 C166.50,123.23 168.33,124.43 171.00,125.80 C173.67,127.17 177.17,128.63 180.00,129.60 C182.83,130.57 185.33,131.20 188.00,131.60 C190.67,132.00 193.50,132.07 196.00,132.00 C198.50,131.93 200.83,131.62 203.00,131.20 C205.17,130.78 207.17,130.17 209.00,129.50 C210.83,128.83 212.33,128.02 214.00,127.20 C215.67,126.38 218.17,125.03 219.00,124.60
C221,124.4 222.8,125.8 224.2,127 C226.2,128.6 228,129.8 229.3,131.2 C230.8,133 231.6,134.8 232.4,136.4 C233.3,138 234,139 234.5,140
C235,141.2 235.3,142.3 235.5,143.3 C236.6,147 237.6,150.3 238.6,153.6 C239.7,156.6 241,159.3 242.3,161.9 C243.5,164.5 244.7,166.8 245.9,169.1
C246.8,171 247.6,172.6 248.3,174.3 " fill="none" stroke="#ee8fb3" stroke-width="2.0" stroke-linejoin="round"/><path d="
M250,104.3 C246,104.4 243,104.8 239.7,105.6 C236.5,106.3 234,107 231.4,107.9 C228.5,108.9 226.3,109.9 224.2,111 C222,112.3 220.5,113.8 219,115.4
C217.5,116.8 216,118 214,119.2 C210.5,121.3 207.5,122.6 204.5,123.2 C201,124 198,124.2 195,123.9 C193.83,123.78 190.83,123.75 188.00,123.20 C185.17,122.65 181.07,121.60 178.00,120.60 C174.93,119.60 172.37,118.63 169.60,117.20 C166.83,115.77 163.83,113.90 161.40,112.00 C158.97,110.10 156.90,107.48 155.00,105.80 C153.10,104.12 151.83,102.95 150.00,101.90 C148.17,100.85 145.00,99.90 144.00,99.50
C137,97.3 130,95.5 124,93.7 C118,91.9 114,90 110,88 C106.5,86.2 103.5,85 101,86
C97.5,88 95.5,92 94.3,97 C93,102.5 93.3,108 95,114 C96.5,119.5 99,124 102,129
C105,134 108.5,139 111.5,144.5 C114.5,150 116.5,155 117.5,160" fill="none" stroke="#d47ab9" stroke-width="2.8" stroke-linejoin="round" clip-path="url(#vtl)"/><g transform="translate(498.6,0) scale(-1,1)"><clipPath id="vtr"><path d="
M250,104.3 C246,104.4 243,104.8 239.7,105.6 C236.5,106.3 234,107 231.4,107.9 C228.5,108.9 226.3,109.9 224.2,111 C222,112.3 220.5,113.8 219,115.4
C217.5,116.8 216,118 214,119.2 C210.5,121.3 207.5,122.6 204.5,123.2 C201,124 198,124.2 195,123.9 C193.83,123.78 190.83,123.75 188.00,123.20 C185.17,122.65 181.07,121.60 178.00,120.60 C174.93,119.60 172.37,118.63 169.60,117.20 C166.83,115.77 163.83,113.90 161.40,112.00 C158.97,110.10 156.90,107.48 155.00,105.80 C153.10,104.12 151.83,102.95 150.00,101.90 C148.17,100.85 145.00,99.90 144.00,99.50
C137,97.3 130,95.5 124,93.7 C118,91.9 114,90 110,88 C106.5,86.2 103.5,85 101,86
C97.5,88 95.5,92 94.3,97 C93,102.5 93.3,108 95,114 C96.5,119.5 98,123 100,126.5
C102,130.5 104,134 107,136.3 C110.5,138.5 115.5,138.2 119,136.2 C121.5,134.8 123.3,132.5 122.3,130.8 C121.3,129.5 118.5,129.3 116,128.5
C113.5,127.6 112.3,125.5 111.6,123 C110.8,120.5 110,118.5 109,116 C107.8,113.5 107,111.5 106.9,109.5
C106.6,106.5 107.5,103.5 109.5,101.8 C111.5,100 114.5,99.6 117.5,100.3 C121.5,101.2 125,103.3 129,105.5
C133.5,108 138,108.8 143,109 C144.17,109.30 147.83,109.83 150.00,110.80 C152.17,111.77 153.67,113.03 156.00,114.80 C158.33,116.57 161.50,119.57 164.00,121.40 C166.50,123.23 168.33,124.43 171.00,125.80 C173.67,127.17 177.17,128.63 180.00,129.60 C182.83,130.57 185.33,131.20 188.00,131.60 C190.67,132.00 193.50,132.07 196.00,132.00 C198.50,131.93 200.83,131.62 203.00,131.20 C205.17,130.78 207.17,130.17 209.00,129.50 C210.83,128.83 212.33,128.02 214.00,127.20 C215.67,126.38 218.17,125.03 219.00,124.60
C221,124.4 222.8,125.8 224.2,127 C226.2,128.6 228,129.8 229.3,131.2 C230.8,133 231.6,134.8 232.4,136.4 C233.3,138 234,139 234.5,140
C235,141.2 235.3,142.3 235.5,143.3 C236.6,147 237.6,150.3 238.6,153.6 C239.7,156.6 241,159.3 242.3,161.9 C243.5,164.5 244.7,166.8 245.9,169.1
C246.8,171 247.6,172.6 248.3,174.3 L250,176 Z"/></clipPath><path d="
M250,104.3 C246,104.4 243,104.8 239.7,105.6 C236.5,106.3 234,107 231.4,107.9 C228.5,108.9 226.3,109.9 224.2,111 C222,112.3 220.5,113.8 219,115.4
C217.5,116.8 216,118 214,119.2 C210.5,121.3 207.5,122.6 204.5,123.2 C201,124 198,124.2 195,123.9 C193.83,123.78 190.83,123.75 188.00,123.20 C185.17,122.65 181.07,121.60 178.00,120.60 C174.93,119.60 172.37,118.63 169.60,117.20 C166.83,115.77 163.83,113.90 161.40,112.00 C158.97,110.10 156.90,107.48 155.00,105.80 C153.10,104.12 151.83,102.95 150.00,101.90 C148.17,100.85 145.00,99.90 144.00,99.50
C137,97.3 130,95.5 124,93.7 C118,91.9 114,90 110,88 C106.5,86.2 103.5,85 101,86
C97.5,88 95.5,92 94.3,97 C93,102.5 93.3,108 95,114 C96.5,119.5 98,123 100,126.5
C102,130.5 104,134 107,136.3 C110.5,138.5 115.5,138.2 119,136.2 C121.5,134.8 123.3,132.5 122.3,130.8 C121.3,129.5 118.5,129.3 116,128.5
C113.5,127.6 112.3,125.5 111.6,123 C110.8,120.5 110,118.5 109,116 C107.8,113.5 107,111.5 106.9,109.5
C106.6,106.5 107.5,103.5 109.5,101.8 C111.5,100 114.5,99.6 117.5,100.3 C121.5,101.2 125,103.3 129,105.5
C133.5,108 138,108.8 143,109 C144.17,109.30 147.83,109.83 150.00,110.80 C152.17,111.77 153.67,113.03 156.00,114.80 C158.33,116.57 161.50,119.57 164.00,121.40 C166.50,123.23 168.33,124.43 171.00,125.80 C173.67,127.17 177.17,128.63 180.00,129.60 C182.83,130.57 185.33,131.20 188.00,131.60 C190.67,132.00 193.50,132.07 196.00,132.00 C198.50,131.93 200.83,131.62 203.00,131.20 C205.17,130.78 207.17,130.17 209.00,129.50 C210.83,128.83 212.33,128.02 214.00,127.20 C215.67,126.38 218.17,125.03 219.00,124.60
C221,124.4 222.8,125.8 224.2,127 C226.2,128.6 228,129.8 229.3,131.2 C230.8,133 231.6,134.8 232.4,136.4 C233.3,138 234,139 234.5,140
C235,141.2 235.3,142.3 235.5,143.3 C236.6,147 237.6,150.3 238.6,153.6 C239.7,156.6 241,159.3 242.3,161.9 C243.5,164.5 244.7,166.8 245.9,169.1
C246.8,171 247.6,172.6 248.3,174.3 L250,176 Z" fill="#e9a2cf"/><path d="M250,104.3 C246,104.4 243,104.8 239.7,105.6 C236.5,106.3 234,107 231.4,107.9 C228.5,108.9 226.3,109.9 224.2,111 C222,112.3 220.5,113.8 219,115.4
C217.5,116.8 216,118 214,119.2 C210.5,121.3 207.5,122.6 204.5,123.2 C201,124 198,124.2 195,123.9 C193.83,123.78 190.83,123.75 188.00,123.20 C185.17,122.65 181.07,121.60 178.00,120.60 C174.93,119.60 172.37,118.63 169.60,117.20 C166.83,115.77 163.83,113.90 161.40,112.00 C158.97,110.10 156.90,107.48 155.00,105.80 C153.10,104.12 151.83,102.95 150.00,101.90 C148.17,100.85 145.00,99.90 144.00,99.50
C137,97.3 130,95.5 124,93.7 C118,91.9 114,90 110,88 C106.5,86.2 103.5,85 101,86
C97.5,88 95.5,92 94.3,97 C93,102.5 93.3,108 95,114 C96.5,119.5 98,123 100,126.5
C102,130.5 104,134 107,136.3 C110.5,138.5 115.5,138.2 119,136.2 C121.5,134.8 123.3,132.5 122.3,130.8 C121.3,129.5 118.5,129.3 116,128.5
C113.5,127.6 112.3,125.5 111.6,123 C110.8,120.5 110,118.5 109,116 C107.8,113.5 107,111.5 106.9,109.5
C106.6,106.5 107.5,103.5 109.5,101.8 C111.5,100 114.5,99.6 117.5,100.3 C121.5,101.2 125,103.3 129,105.5
C133.5,108 138,108.8 143,109 C144.17,109.30 147.83,109.83 150.00,110.80 C152.17,111.77 153.67,113.03 156.00,114.80 C158.33,116.57 161.50,119.57 164.00,121.40 C166.50,123.23 168.33,124.43 171.00,125.80 C173.67,127.17 177.17,128.63 180.00,129.60 C182.83,130.57 185.33,131.20 188.00,131.60 C190.67,132.00 193.50,132.07 196.00,132.00 C198.50,131.93 200.83,131.62 203.00,131.20 C205.17,130.78 207.17,130.17 209.00,129.50 C210.83,128.83 212.33,128.02 214.00,127.20 C215.67,126.38 218.17,125.03 219.00,124.60
C221,124.4 222.8,125.8 224.2,127 C226.2,128.6 228,129.8 229.3,131.2 C230.8,133 231.6,134.8 232.4,136.4 C233.3,138 234,139 234.5,140
C235,141.2 235.3,142.3 235.5,143.3 C236.6,147 237.6,150.3 238.6,153.6 C239.7,156.6 241,159.3 242.3,161.9 C243.5,164.5 244.7,166.8 245.9,169.1
C246.8,171 247.6,172.6 248.3,174.3 " fill="none" stroke="#ee8fb3" stroke-width="2.0" stroke-linejoin="round"/><path d="
M250,104.3 C246,104.4 243,104.8 239.7,105.6 C236.5,106.3 234,107 231.4,107.9 C228.5,108.9 226.3,109.9 224.2,111 C222,112.3 220.5,113.8 219,115.4
C217.5,116.8 216,118 214,119.2 C210.5,121.3 207.5,122.6 204.5,123.2 C201,124 198,124.2 195,123.9 C193.83,123.78 190.83,123.75 188.00,123.20 C185.17,122.65 181.07,121.60 178.00,120.60 C174.93,119.60 172.37,118.63 169.60,117.20 C166.83,115.77 163.83,113.90 161.40,112.00 C158.97,110.10 156.90,107.48 155.00,105.80 C153.10,104.12 151.83,102.95 150.00,101.90 C148.17,100.85 145.00,99.90 144.00,99.50
C137,97.3 130,95.5 124,93.7 C118,91.9 114,90 110,88 C106.5,86.2 103.5,85 101,86
C97.5,88 95.5,92 94.3,97 C93,102.5 93.3,108 95,114 C96.5,119.5 98,123 100,126.5
C102,130.5 104,134 107,136.3" fill="none" stroke="#d47ab9" stroke-width="2.8" stroke-linejoin="round" clip-path="url(#vtr)"/></g><path fill="#cd66ac" d="M115.4,156 C116.6,160 117.1,165 116.9,170 C116.8,173 116.5,175.6 117.1,176.9 C117.9,177.9 119.5,177.3 119.9,175.6 C120.7,172 120.5,167 119.9,163 C119.5,160.4 118.7,157.8 117.7,155.4 Z"/>
<path fill="#d573b3" d="M120,160 C121.2,163.4 122.3,167.2 123.1,170.4 C123.7,172.6 124.2,174.3 125.2,174.9 C126.5,175.3 127.3,174 126.9,172.2 C126.1,168.6 124.7,164.6 122.9,161 Z"/>
<path fill="#cf62a8" d="M152,138.2 C156,139 160,139.6 163.5,139.6 C165.5,139.5 166,138.6 164.6,138 C161,137.2 157,137 153,136.2 Z"/><path fill="#fcad8e" d="M120,151 C120.5,144.5 126,139 135,137.3 C146,135.5 158,139 165.5,146 C169,149.3 171.5,153.5 172.5,157.5
C177,162.5 183,165 189.5,164.5 C196,164 201,160 203.5,154 C204.5,150.5 205.5,146.5 207.5,144.2 C210,143 212,145.5 213.5,149
C215.5,154 216.8,160 215.5,165 C214.5,168 212,167.8 209.5,168.3 C203,170 196.5,172.8 189,174 C181,175.3 174,175 168,175.8
C162,178.5 155,179.4 148.5,178.6 C139,177.5 130,172.5 124.5,165 C121.5,161 119.8,156 120,151 Z"/>
<path fill="#fdbc9e" d="M172.6,158 C177,162.5 183,165 189.5,164.5 C196,164 201,160 203.5,154 C204.5,150.5 205.5,146.5 207.5,144.2 C210,143 212,145.5 213.5,149
C215.5,154 216.8,160 215.5,165 C214.5,168 212,167.8 209.5,168.3 C203,170 196.5,172.8 189,174 C181,175.3 174,175 168,175.8 C170,170 171.6,164 172.6,158 Z"/>
<path fill="#febca0" d="M120,151 C120.4,146.6 123.6,143 128.6,141.4 C135,140.6 142,142.6 148,146.6 C153,150 157.4,154.6 160.6,160 C162.8,163.8 164.4,168 165,172 C165.2,174 165,175.6 164.4,176.8 C159.4,178.6 153.6,179.2 148.5,178.6 C139,177.5 130,172.5 124.5,165 C121.5,161 119.8,156 120,151 Z"/><path fill="#d784bf" d="M249.3,105.7 C246,105.8 243,106.3 239.7,107 C236.6,107.7 234,108.4 231.4,109.3 C228.6,110.3 226.3,111.3 224.2,112.4 C222,113.7 220.6,115.2 219,116.8 C217.5,118.2 216.2,119.4 214.3,120.6 C211,122.5 208,123.8 205,124.4 C202.5,124.8 200,124.9 197,124.6 C199.5,126.2 202,127 205.3,126.6 C209,126 212.5,124.6 215.7,123.7 C217,123.3 218,123.1 219,123.2 C219.50,123.33 220.93,123.43 222.00,124.00 C223.07,124.57 224.30,125.70 225.40,126.60 C226.50,127.50 227.50,128.50 228.60,129.40 C229.70,130.30 230.87,131.20 232.00,132.00 C233.13,132.80 234.37,133.47 235.40,134.20 C236.43,134.93 237.43,135.60 238.20,136.40 C238.97,137.20 239.43,137.90 240.00,139.00 C240.57,140.10 241.07,141.57 241.60,143.00 C242.13,144.43 242.70,146.10 243.20,147.60 C243.70,149.10 244.13,150.52 244.60,152.00 C245.07,153.48 245.50,155.00 246.00,156.50 C246.50,158.00 247.05,159.58 247.60,161.00 C248.15,162.42 249.02,164.33 249.30,165.00 L250,165 L250,105.7 Z"/><path fill="none" stroke="#d784bf" stroke-width="2.0" stroke-linecap="round" stroke-dasharray="0.01 2.7" d="M219.00,123.20 C219.50,123.33 220.93,123.43 222.00,124.00 C223.07,124.57 224.30,125.70 225.40,126.60 C226.50,127.50 227.50,128.50 228.60,129.40 C229.70,130.30 230.87,131.20 232.00,132.00 C233.13,132.80 234.37,133.47 235.40,134.20 C236.43,134.93 237.43,135.60 238.20,136.40 C238.97,137.20 239.43,137.90 240.00,139.00 C240.57,140.10 241.07,141.57 241.60,143.00 C242.13,144.43 242.70,146.10 243.20,147.60 C243.70,149.10 244.13,150.52 244.60,152.00 C245.07,153.48 245.50,155.00 246.00,156.50 C246.50,158.00 247.05,159.58 247.60,161.00 C248.15,162.42 249.02,164.33 249.30,165.00"/><path fill="none" stroke="#d176b4" stroke-width="1.0" opacity="0.8" d="M224,116.5 C232,113 241,111.3 250,111.2 M222,121 C231,117.3 241,115.8 250,115.8 M228.5,125.8 C236,123 243,122 250,122"/><g transform="translate(498.6,0) scale(-1,1)"><path fill="#d784bf" d="M249.3,105.7 C246,105.8 243,106.3 239.7,107 C236.6,107.7 234,108.4 231.4,109.3 C228.6,110.3 226.3,111.3 224.2,112.4 C222,113.7 220.6,115.2 219,116.8 C217.5,118.2 216.2,119.4 214.3,120.6 C211,122.5 208,123.8 205,124.4 C202.5,124.8 200,124.9 197,124.6 C199.5,126.2 202,127 205.3,126.6 C209,126 212.5,124.6 215.7,123.7 C217,123.3 218,123.1 219,123.2 C219.50,123.33 220.93,123.43 222.00,124.00 C223.07,124.57 224.30,125.70 225.40,126.60 C226.50,127.50 227.50,128.50 228.60,129.40 C229.70,130.30 230.87,131.20 232.00,132.00 C233.13,132.80 234.37,133.47 235.40,134.20 C236.43,134.93 237.43,135.60 238.20,136.40 C238.97,137.20 239.43,137.90 240.00,139.00 C240.57,140.10 241.07,141.57 241.60,143.00 C242.13,144.43 242.70,146.10 243.20,147.60 C243.70,149.10 244.13,150.52 244.60,152.00 C245.07,153.48 245.50,155.00 246.00,156.50 C246.50,158.00 247.05,159.58 247.60,161.00 C248.15,162.42 249.02,164.33 249.30,165.00 L250,165 L250,105.7 Z"/><path fill="none" stroke="#d784bf" stroke-width="2.0" stroke-linecap="round" stroke-dasharray="0.01 2.7" d="M219.00,123.20 C219.50,123.33 220.93,123.43 222.00,124.00 C223.07,124.57 224.30,125.70 225.40,126.60 C226.50,127.50 227.50,128.50 228.60,129.40 C229.70,130.30 230.87,131.20 232.00,132.00 C233.13,132.80 234.37,133.47 235.40,134.20 C236.43,134.93 237.43,135.60 238.20,136.40 C238.97,137.20 239.43,137.90 240.00,139.00 C240.57,140.10 241.07,141.57 241.60,143.00 C242.13,144.43 242.70,146.10 243.20,147.60 C243.70,149.10 244.13,150.52 244.60,152.00 C245.07,153.48 245.50,155.00 246.00,156.50 C246.50,158.00 247.05,159.58 247.60,161.00 C248.15,162.42 249.02,164.33 249.30,165.00"/><path fill="none" stroke="#d176b4" stroke-width="1.0" opacity="0.8" d="M224,116.5 C232,113 241,111.3 250,111.2 M222,121 C231,117.3 241,115.8 250,115.8 M228.5,125.8 C236,123 243,122 250,122"/></g><pattern id="cavdots" width="2.2" height="2.2" patternUnits="userSpaceOnUse" patternTransform="translate(0.2,0.4)"><rect width="2.2" height="2.2" fill="#d47ebc"/><circle cx="0.55" cy="0.55" r="0.62" fill="#dc90c8"/><circle cx="1.65" cy="1.65" r="0.62" fill="#dc90c8"/></pattern><path fill="url(#cavdots)" d="M237.4,133 C245,131.6 253.6,131.6 261.2,133 C259.6,136 258.2,139.6 257.2,143 C256,147.4 254.8,152 253.2,156 C252.2,158.6 251,161 249.3,163.4 C247.6,161 246.4,158.6 245.4,156 C243.8,152 242.6,147.4 241.4,143 C240.4,139.6 239,136 237.4,133 Z"/><path fill="#f9c5d3" d="M225.40,203.00 C225.12,204.17 224.27,207.08 223.70,210.00 C223.13,212.92 222.02,216.73 222.00,220.50 C221.98,224.27 222.77,228.85 223.60,232.60 C224.43,236.35 226.20,239.43 227.00,243.00 C227.80,246.57 228.07,250.83 228.40,254.00 C228.73,257.17 228.77,258.50 229.00,262.00 C229.23,265.50 229.52,270.33 229.80,275.00 C230.08,279.67 230.33,286.00 230.70,290.00 C231.07,294.00 231.42,296.17 232.00,299.00 C232.58,301.83 233.17,304.57 234.20,307.00 C235.23,309.43 236.17,312.07 238.20,313.60 C240.23,315.13 245.03,315.77 246.40,316.20 L254.6,316.2 C255.83,315.73 260.20,314.93 262.00,313.40 C263.80,311.87 264.50,309.40 265.40,307.00 C266.30,304.60 266.90,301.83 267.40,299.00 C267.90,296.17 268.17,294.00 268.40,290.00 C268.63,286.00 268.60,279.67 268.80,275.00 C269.00,270.33 269.37,265.50 269.60,262.00 C269.83,258.50 269.80,257.17 270.20,254.00 C270.60,250.83 271.20,246.57 272.00,243.00 C272.80,239.43 274.23,236.35 275.00,232.60 C275.77,228.85 276.57,224.27 276.60,220.50 C276.63,216.73 275.73,212.92 275.20,210.00 C274.67,207.08 273.70,204.17 273.40,203.00 Z"/><path fill="#f4a5c3" d="M227.40,211.40 C227.57,212.17 228.03,213.62 228.40,216.00 C228.77,218.38 229.30,222.37 229.60,225.70 C229.90,229.03 229.97,231.95 230.20,236.00 C230.43,240.05 230.80,246.00 231.00,250.00 C231.20,254.00 231.23,255.83 231.40,260.00 C231.57,264.17 231.80,270.00 232.00,275.00 C232.20,280.00 232.30,285.83 232.60,290.00 C232.90,294.17 233.33,297.17 233.80,300.00 C234.27,302.83 234.70,304.93 235.40,307.00 C236.10,309.07 236.90,311.13 238.00,312.40 C239.10,313.67 241.33,314.23 242.00,314.60 L257.6,314.6 C258.27,314.23 260.47,313.67 261.60,312.40 C262.73,311.13 263.60,309.07 264.40,307.00 C265.20,304.93 265.82,302.83 266.40,300.00 C266.98,297.17 267.65,293.00 267.90,290.00 C268.15,287.00 267.90,285.33 267.90,282.00 C267.90,278.67 267.88,274.50 267.90,270.00 C267.92,265.50 267.88,259.17 268.00,255.00 C268.12,250.83 268.32,248.67 268.60,245.00 C268.88,241.33 269.47,236.22 269.70,233.00 C269.93,229.78 269.85,228.53 270.00,225.70 C270.15,222.87 270.33,218.38 270.60,216.00 C270.87,213.62 271.43,212.17 271.60,211.40 C270.6,212.8 269.6,214 268.8,215.4 C266,219.6 261.6,223.6 257.6,223.2 L241,223.2 C237,223.6 232.6,219.6 229.8,215.4 C229,214 228.4,212.8 227.4,211.4 Z"/><path fill="#e9a2cf" stroke="#e080b6" stroke-width="1.5" stroke-linejoin="round" d="M240.20,311.60 C239.80,310.67 238.47,307.93 237.80,306.00 C237.13,304.07 236.68,302.67 236.20,300.00 C235.72,297.33 235.20,294.17 234.90,290.00 C234.60,285.83 234.62,280.00 234.40,275.00 C234.18,270.00 233.80,264.17 233.60,260.00 C233.40,255.83 233.42,254.00 233.20,250.00 C232.98,246.00 232.53,240.05 232.30,236.00 C232.07,231.95 232.12,229.15 231.80,225.70 C231.48,222.25 230.63,217.03 230.40,215.30 C229.8,214.2 228.6,213.4 228.8,212.4 C229.2,211.2 230.8,211.4 231.8,212.6 C233.2,214.4 234.4,216.4 236,218.4 C237.6,220.4 239.4,221.7 241.2,221.7 C243,221.7 244.4,220.4 245.2,218.4 C246,216.2 246.3,213.5 246.5,210.2 C246.6,207 246.5,204 246.5,200 C246.5,192 246.8,185 247.2,180 C247.6,176 248.3,173.5 249.3,171.5 C250.3,173.5 251,176 251.4,180 C251.8,185 252.1,192 252.1,200 C252.1,204 252,207 252.1,210.2 C252.3,213.5 252.6,216.2 253.4,218.4 C254.2,220.4 255.6,221.7 257.4,221.7 C259.2,221.7 261,220.4 262.6,218.4 C264.2,216.4 265.4,214.4 266.8,212.6 C267.8,211.4 269.4,211.2 269.8,212.4 C270,213.4 268.8,214.2 268.6,215.3 C268.50,217.03 268.08,222.75 268.00,225.70 C267.92,228.65 268.33,229.78 268.10,233.00 C267.87,236.22 266.98,241.33 266.60,245.00 C266.22,248.67 266.03,250.83 265.80,255.00 C265.57,259.17 265.40,265.50 265.20,270.00 C265.00,274.50 264.73,278.67 264.60,282.00 C264.47,285.33 264.63,287.00 264.40,290.00 C264.17,293.00 263.70,297.33 263.20,300.00 C262.70,302.67 262.13,304.07 261.40,306.00 C260.67,307.93 259.23,310.67 258.80,311.60 C259,313.2 244,313.2 240.2,311.6 Z"/><path fill="#db7ab6" d="M236.10,227.40 C236.12,228.33 236.08,230.07 236.20,233.00 C236.32,235.93 236.63,241.17 236.80,245.00 C236.97,248.83 237.10,251.83 237.20,256.00 C237.30,260.17 237.40,265.67 237.40,270.00 C237.40,274.33 237.23,278.67 237.20,282.00 C237.17,285.33 237.03,287.00 237.20,290.00 C237.37,293.00 237.80,297.33 238.20,300.00 C238.60,302.67 239.07,304.27 239.60,306.00 C240.13,307.73 241.10,309.67 241.40,310.40 C244,312.2 258,312.4 257.6,310.4 C257.90,309.67 258.87,307.73 259.40,306.00 C259.93,304.27 260.38,302.67 260.80,300.00 C261.22,297.33 261.73,293.00 261.90,290.00 C262.07,287.00 261.87,285.33 261.80,282.00 C261.73,278.67 261.55,274.33 261.50,270.00 C261.45,265.67 261.35,260.17 261.50,256.00 C261.65,251.83 262.05,248.83 262.40,245.00 C262.75,241.17 263.52,235.83 263.60,233.00 C263.68,230.17 263.02,228.83 262.90,228.00 C258,227.2 244,226.6 236.1,227.4 Z"/><path fill="none" stroke="#f2bfe2" stroke-width="0.5" opacity="0.7" d="M235.50,227.40 C235.52,228.33 235.48,230.07 235.60,233.00 C235.72,235.93 236.03,241.17 236.20,245.00 C236.37,248.83 236.50,251.83 236.60,256.00 C236.70,260.17 236.80,265.67 236.80,270.00 C236.80,274.33 236.63,278.67 236.60,282.00 C236.57,285.33 236.43,287.00 236.60,290.00 C236.77,293.00 237.20,297.33 237.60,300.00 C238.00,302.67 238.47,304.27 239.00,306.00 C239.53,307.73 240.50,309.67 240.80,310.40"/><path d="M238.4,230.3 L261.5,231.5" stroke="#eca6d3" stroke-width="2.00" stroke-linecap="round" fill="none"/><path d="M238.6,236.0 L261.4,237.0" stroke="#eca6d3" stroke-width="1.87" stroke-linecap="round" fill="none"/><path d="M238.8,241.3 L260.9,242.1" stroke="#eca6d3" stroke-width="1.74" stroke-linecap="round" fill="none"/><path d="M239.1,246.3 L260.5,246.8" stroke="#eca6d3" stroke-width="1.62" stroke-linecap="round" fill="none"/><path d="M239.2,250.9 L260.1,251.2" stroke="#eca6d3" stroke-width="1.51" stroke-linecap="round" fill="none"/><path d="M239.4,255.1 L259.8,255.3" stroke="#eca6d3" stroke-width="1.40" stroke-linecap="round" fill="none"/><path d="M239.4,259.1 L259.7,259.2" stroke="#eca6d3" stroke-width="1.30" stroke-linecap="round" fill="none"/><path d="M239.5,262.8 L259.7,262.8" stroke="#eca6d3" stroke-width="1.21" stroke-linecap="round" fill="none"/><path d="M239.5,266.1 L259.7,266.1" stroke="#eca6d3" stroke-width="1.13" stroke-linecap="round" fill="none"/><path d="M239.6,269.3 L259.7,269.3" stroke="#eca6d3" stroke-width="1.05" stroke-linecap="round" fill="none"/><path d="M239.6,272.2 L259.8,272.2" stroke="#eca6d3" stroke-width="1.00" stroke-linecap="round" fill="none"/><path d="M239.5,274.9 L259.8,274.9" stroke="#eca6d3" stroke-width="1.00" stroke-linecap="round" fill="none"/><path d="M239.5,277.5 L259.9,277.5" stroke="#eca6d3" stroke-width="1.00" stroke-linecap="round" fill="none"/><path d="M239.4,280.1 L260.0,280.1" stroke="#eca6d3" stroke-width="1.00" stroke-linecap="round" fill="none"/><path d="M239.4,282.7 L260.0,282.7" stroke="#eca6d3" stroke-width="1.00" stroke-linecap="round" fill="none"/><path d="M239.4,285.3 L260.0,285.3" stroke="#eca6d3" stroke-width="1.00" stroke-linecap="round" fill="none"/><path d="M239.4,287.9 L260.1,287.9" stroke="#eca6d3" stroke-width="1.00" stroke-linecap="round" fill="none"/><path d="M239.4,290.5 L260.0,290.5" stroke="#eca6d3" stroke-width="1.00" stroke-linecap="round" fill="none"/><path d="M239.7,293.1 L259.8,293.1" stroke="#eca6d3" stroke-width="1.00" stroke-linecap="round" fill="none"/><path d="M240.0,295.7 L259.5,295.7" stroke="#eca6d3" stroke-width="1.00" stroke-linecap="round" fill="none"/><path d="M240.2,298.3 L259.2,298.3" stroke="#eca6d3" stroke-width="1.00" stroke-linecap="round" fill="none"/><path d="M240.6,300.9 L258.8,300.9" stroke="#eca6d3" stroke-width="1.00" stroke-linecap="round" fill="none"/><path d="M241.2,303.5 L258.2,303.5" stroke="#eca6d3" stroke-width="1.00" stroke-linecap="round" fill="none"/><path d="M241.8,306.1 L257.6,306.1" stroke="#eca6d3" stroke-width="1.00" stroke-linecap="round" fill="none"/><path d="M242.9,308.7 L256.5,308.7" stroke="#eca6d3" stroke-width="1.00" stroke-linecap="round" fill="none"/><circle cx="131.0" cy="150.3" r="1.7" fill="#f6d2f2" stroke="#dc84c8" stroke-width="1.2"/><circle cx="143.4" cy="149.7" r="2.1" fill="#f6d2f2" stroke="#dc84c8" stroke-width="1.2"/><circle cx="144.6" cy="164.1" r="2.6" fill="#f6d2f2" stroke="#dc84c8" stroke-width="1.2"/><circle cx="158.6" cy="161.0" r="3.1" fill="#f6d2f2" stroke="#dc84c8" stroke-width="1.2"/><path fill="#3a3a3a" d="M249.25,172 L249.6,180 L249.7,205 L249.85,226 L250.15,250 L250.6,270 C250.8,283 251.5,291 253.1,297 C255,304 257.8,309.4 262.2,314.8 C266.2,319.6 270.8,323 276.5,326 L275.1,329.1 C268.8,326 263.8,322.2 259.6,317.2 C255,311.6 251.9,305.2 250,298.2 C248.4,292 247.8,283 247.8,270 L248.3,250 L248.65,226 L248.8,205 L248.9,180 Z"/><g transform="translate(274.6,326.7) rotate(26.4)"><path fill="#66d3cf" d="M-1,-1.5 L3,-1.9 L30,-2.3 L37,-3.2 L47,-3.5 L47,3.5 L37,3.2 L30,2.3 L3,1.9 L-1,1.5 Z"/><path fill="#2ba19f" d="M-1.4,-1.5 L3,-1.9 L3,1.9 L-1.4,1.5 Z"/><path fill="#8fe3df" opacity="0.85" d="M5,-1.2 L30,-1.6 L36,-2.3 L46,-2.5 L46,-1.2 L36,-1 L5,-0.2 Z"/><path fill="#2fc2bd" d="M32,0 L46,0.2 L46,2.6 L36,2.4 Z"/><rect x="47" y="-3.6" width="8" height="7.2" fill="#e6def4"/><path fill="#4b4f55" d="M54.6,-3.4 L56.4,-4.3 L62,-4.3 L62.6,-3.4 L62.6,3.4 L62,4.3 L56.4,4.3 L54.6,3.4 Z"/><path fill="#686c73" d="M57.6,-4.3 L58.6,-4.3 L58.6,4.3 L57.6,4.3 Z M60,-4.3 L61,-4.3 L61,4.3 L60,4.3 Z"/><rect x="62.6" y="-3.5" width="55.4" height="7" fill="#3fc8c4"/><rect x="62.6" y="-1.9" width="55.4" height="1.3" fill="#6fd8d4"/><rect x="62.6" y="-3.6" width="55.4" height="1.0" fill="#9adbe6" opacity="0.8"/><rect x="62.6" y="2.8" width="55.4" height="0.9" fill="#c9d3ee"/><rect x="116.7" y="-7.2" width="2.4" height="14.4" rx="1.2" fill="#c9d0ef"/><path fill="#12c0b3" d="M119.1,-3.3 L143,-2 L143,2 L119.1,3.3 Z"/><path fill="#0aa99d" opacity="0.6" d="M119.1,0.2 L143,0.2 L143,0.9 L119.1,1.1 Z"/><rect x="143" y="-4.8" width="2.6" height="9.6" rx="0.9" fill="#12c0b3"/></g></g>
<path fill="none" stroke="#4a86d4" stroke-width="1.2" stroke-linecap="round" d="M558,183 C557.6,176 558.6,170 562,166.2 C566,162.6 575,162.6 580,166.5 C584.5,170 585,180 585.6,190 C586.5,203 589.5,213 596,218.5 C602,223 612,222.6 620,217.8 L662,182"/><path fill="none" stroke="#4a86d4" stroke-width="1.3" stroke-linecap="butt" d="M620,217.8 L700.6,149.2"/><path fill="none" stroke="#9dc3ee" stroke-width="0.6" d="M660,184.8 L700.6,150"/><path fill="#b9def3" stroke="#a9d3ee" stroke-width="1" d="M542.6,187 L542.6,272 C542.6,281 549.5,288 558.6,288 C567.6,288 574.6,281 574.6,272 L574.6,187 Z"/><path fill="#f3c8f3" d="M543.9,211.5 L543.9,272 C543.9,280.3 550.3,286.7 558.6,286.7 C566.9,286.7 573.3,280.3 573.3,272 L573.3,211.5 Z"/><ellipse cx="558.6" cy="212" rx="14.6" ry="3.2" fill="#d58fd2"/><path fill="#3d8ccb" d="M538.8,183 C538.8,180.7 547.5,179 558.6,179 C569.7,179 578.4,180.7 578.4,183 L578.4,186 C578.4,188.4 569.7,190 558.6,190 C547.5,190 538.8,188.4 538.8,186 Z"/><ellipse cx="558.6" cy="183" rx="18.6" ry="3" fill="#dceefb"/><circle cx="558.1" cy="225.9" r="2.6" fill="#f7c7ee" stroke="#d86fc4" stroke-width="1"/><circle cx="558.49" cy="225.64" r="1.17" fill="#fbdcf5"/><circle cx="563.7" cy="241.8" r="3.3" fill="#f7c7ee" stroke="#d86fc4" stroke-width="1"/><circle cx="564.20" cy="241.47" r="1.48" fill="#fbdcf5"/><circle cx="554.4" cy="256.7" r="4.0" fill="#f7c7ee" stroke="#d86fc4" stroke-width="1"/><circle cx="555.00" cy="256.30" r="1.80" fill="#fbdcf5"/><circle cx="561.3" cy="272.4" r="5.0" fill="#f7c7ee" stroke="#d86fc4" stroke-width="1"/><circle cx="562.05" cy="271.90" r="2.25" fill="#fbdcf5"/>
<radialGradient id="eggin" cx="0.5" cy="0.5" r="0.5"><stop offset="0" stop-color="#f6c8ee"/><stop offset="0.8" stop-color="#f5c2ec"/><stop offset="1" stop-color="#f2b0e3"/></radialGradient><path fill="#ee9dd7" stroke="#b24ea2" stroke-width="1" d="M666,265.4 C672,265 678,267.5 682,272.5 C686,277.5 688,284 691.5,289 C696,292.5 702,294 706.5,298.5 C711,303 713,309 712.5,315.5 C712,324 708,333 701,340.5 C693,348.5 682,352.6 671,352.2 C658,351.8 645,346 636.5,336.5 C629,328 625.5,318 625.8,308 C626.2,297 632,286 640.5,277.5 C648,270 657,265.8 666,265.4 Z"/><path fill="url(#eggin)" d="M668,279.6 C680,279.6 692,285 699.4,293.4 C705.6,300.6 707.6,310 705.4,319.4 C703.2,328.6 697,337 688.6,342 C680.4,346.6 670,347.6 660.6,345.6 C650.4,343 642,336.8 638,328 C634.4,320.2 635,311 639,302.6 C644,292.4 654.6,282.6 668,279.6 Z"/><path fill="#fae0f6" opacity="0.9" d="M646,287 C652,280.5 661,277 669,277.5 C674,278 676,280 673,281 C664,282 655,286 648,292 C645,294 644,290 646,287 Z"/><path fill="#fae0f6" opacity="0.9" d="M636.5,303 C638,299 641.5,296 642.5,298 C643.5,300.5 641,306 639.5,310 C638,313 635.5,308 636.5,303 Z"/><path fill="#f8d2f1" opacity="0.9" d="M704,318 C706,323 703,331 698,336 C696,337.5 695.5,335 697.5,332 C700.5,328 702,323 702.5,318.5 Z"/><path fill="#f8d2f1" opacity="0.8" d="M684,284 C687,284.6 690,286.6 691,289 C689,288.4 686,286.6 684,284 Z"/><path fill="#dd8aca" opacity="0.85" d="M637.6,330.4 C638.8,329.6 640,329.8 641,330.8 L651.6,341 C652.6,342 652.6,343.2 651.6,344 C650.6,344.8 649.4,344.6 648.4,343.6 L637.8,333.6 C636.8,332.6 636.6,331.4 637.6,330.4 Z"/><path fill="#eff1ef" stroke="#c6c9c6" stroke-width="0.7" stroke-linejoin="round" d="M610.3,343.6 L620.6,333.2 C623.6,330.3 628.6,330.4 632,333.2 L646.4,346.4 C650.6,350.3 651.6,355 649.6,359 C647,364 643,368.3 639.4,372 Z"/><path fill="#d3d5d3" d="M635.2,336.4 L640.6,341.4 C636.6,345 634,347.6 632.4,350.6 C630.6,354 629.6,357.6 628.4,361.4 L622.6,355.6 C625.4,352.4 628,349.6 630.2,346.4 C632.4,343.2 634,340 635.2,336.4 Z"/><ellipse cx="627.6" cy="336.6" rx="5" ry="2.6" transform="rotate(12 627.6 336.6)" fill="#ffffff"/><ellipse cx="642.6" cy="347.6" rx="2.6" ry="2" transform="rotate(30 642.6 347.6)" fill="#ffffff"/><ellipse cx="657.3" cy="307.3" rx="2.6" ry="1.7" transform="rotate(-14 657.3 307.3)" fill="#222"/><path fill="none" stroke="#333" stroke-width="0.8" d="M659.5,306.8 C662,306 664,307.6 666.5,306.2 C669,304.8 670,301.8 672.5,301.6 C674,301.6 675,302.4 676,303.2"/><path fill="#cfd3d7" stroke="#a8adb3" stroke-width="0.4" d="M725.9,248.5 L729.3,251.4 L690.6,292.8 L687.2,289.9 Z"/><path fill="#f6f7f8" d="M726.7,249.2 L728,250.3 L689.4,291.6 L688.1,290.5 Z"/><path fill="#a3a9af" stroke="#878d93" stroke-width="0.4" d="M687.2,289.9 L690.6,292.8 C686.5,297 681.5,301.5 676.4,304.8 C678.5,299.5 682.8,294.2 687.2,289.9 Z"/>
<path fill="#c7e3f8" stroke="#66a3dc" stroke-width="0.9" d="M722.3,366.2 L722.3,381.4 C722.3,384.8 746.5,387.5 776.8,387.5 C807,387.5 831.3,384.8 831.3,381.4 L831.3,366.2 Z"/><ellipse cx="776.8" cy="366.2" rx="54.5" ry="5.8" fill="#8fc5ef" stroke="#66a3dc" stroke-width="0.9"/><circle cx="745.5" cy="378.5" r="5.3" fill="#f2a8de" stroke="#c254ae" stroke-width="0.9"/><circle cx="776.3" cy="380.0" r="5.3" fill="#f2a8de" stroke="#c254ae" stroke-width="0.9"/><circle cx="810.7" cy="377.6" r="6.3" fill="#f2a8de" stroke="#c254ae" stroke-width="0.9"/><circle cx="809.6" cy="376.6" r="3.6" fill="#f8cdee"/><circle cx="776.3" cy="380" r="3.4" fill="#f4b6e4"/><ellipse cx="745.5" cy="378.4" rx="2" ry="1" fill="#b8489f"/><path fill="none" stroke="#a6368a" stroke-width="0.9" d="M753.6,378.9 L765.5,380.1 M785.6,379.9 L798.5,379.2"/><path fill="#a6368a" d="M764.6,378.3 L768.4,380.4 L764.2,381.9 Z M797.6,377.5 L801.4,379 L797.8,381 Z"/>
<path fill="#a6368a" d="M559.20,292.60 C560.73,293.87 565.33,298.17 568.40,300.20 C571.47,302.23 574.53,303.58 577.60,304.80 C580.67,306.02 583.73,306.82 586.80,307.50 C589.87,308.18 593.53,308.63 596.00,308.90 C598.47,309.17 600.67,309.07 601.60,309.10 L601.4,303.6 L617.9,311.7 L602.2,322.6 L602.2,317.7 C601.17,317.55 598.57,317.25 596.00,316.80 C593.43,316.35 589.87,315.87 586.80,315.00 C583.73,314.13 580.67,313.10 577.60,311.60 C574.53,310.10 571.47,309.13 568.40,306.00 C565.33,302.87 560.73,295.00 559.20,292.80 Z"/><path fill="#a6368a" d="M717.40,309.80 C719.62,310.12 726.18,310.47 730.70,311.70 C735.22,312.93 739.90,314.78 744.50,317.20 C749.10,319.62 754.40,323.23 758.30,326.20 C762.20,329.17 766.18,333.27 767.90,335.00 C769.62,336.73 768.48,336.33 768.60,336.60 L774.2,333.4 L774.2,351.9 L758.2,342.8 L762.4,341.2 C761.02,339.85 757.08,335.95 754.10,333.10 C751.12,330.25 748.40,326.97 744.50,324.10 C740.60,321.23 735.22,318.25 730.70,315.90 C726.18,313.55 719.62,310.98 717.40,310.00 Z"/><path fill="#a6368a" d="M835.10,385.20 C836.12,385.48 838.30,386.22 841.20,386.90 C844.10,387.58 848.75,388.65 852.50,389.30 C856.25,389.95 859.97,390.50 863.70,390.80 C867.43,391.10 871.15,391.10 874.90,391.10 C878.65,391.10 882.45,391.10 886.20,390.80 C889.95,390.50 893.65,389.95 897.40,389.30 C901.15,388.65 904.95,387.87 908.70,386.90 C912.45,385.93 917.63,384.22 919.90,383.50 C922.17,382.78 921.90,382.75 922.30,382.60 L920.8,379 L938.6,381.3 L927.5,396.6 L926.4,393 C925.32,393.20 922.85,393.73 919.90,394.20 C916.95,394.67 912.45,395.38 908.70,395.80 C904.95,396.22 901.15,396.50 897.40,396.70 C893.65,396.90 889.95,397.05 886.20,397.00 C882.45,396.95 878.65,396.75 874.90,396.40 C871.15,396.05 867.43,395.55 863.70,394.90 C859.97,394.25 856.25,393.65 852.50,392.50 C848.75,391.35 844.10,389.18 841.20,388.00 C838.30,386.82 836.12,385.83 835.10,385.40 Z"/>
</g>
</svg>
</body>
</html>
